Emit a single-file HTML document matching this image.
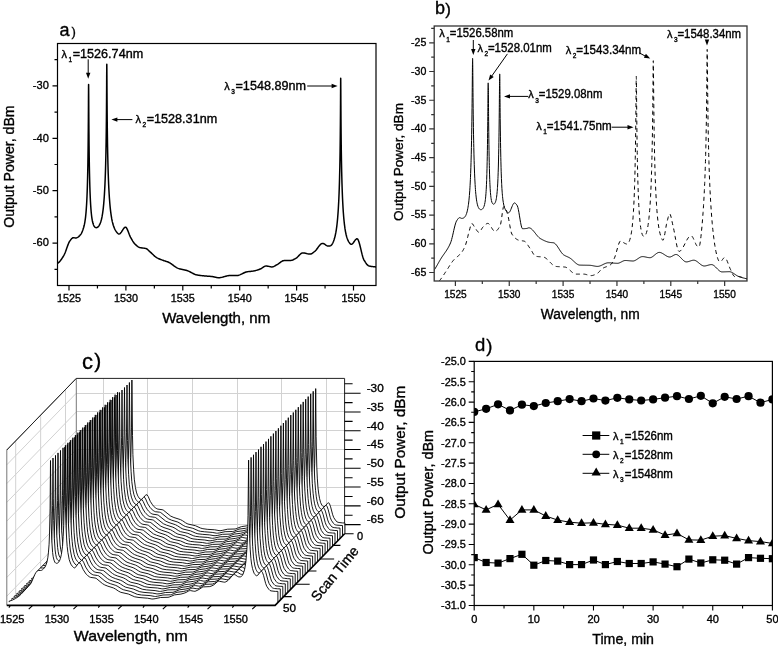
<!DOCTYPE html><html><head><meta charset="utf-8"><style>html,body{margin:0;padding:0;background:#fff;}body{width:778px;height:646px;position:relative;overflow:hidden}</style></head><body><svg width="778" height="646" viewBox="0 0 778 646" style="position:absolute;left:0;top:0;font-family:'Liberation Sans', sans-serif;will-change:transform" fill="#000">
<style>text{stroke:#000;stroke-width:0.35px;paint-order:stroke}</style>
<rect width="778" height="646" fill="#fff"/>
<defs><clipPath id="ca"><rect x="57.5" y="43.5" width="318.5" height="242.0"/></clipPath></defs>
<path d="M57.62,263.24 L58.19,262.89 L58.76,262.43 L59.33,261.88 L59.90,261.26 L60.46,260.56 L61.03,259.80 L61.60,258.99 L62.17,258.13 L62.74,257.24 L63.31,256.33 L63.88,255.40 L64.45,254.27 L65.02,252.94 L65.59,251.47 L66.15,249.89 L66.72,248.28 L67.29,246.67 L67.86,245.12 L68.43,243.69 L69.00,242.42 L69.57,241.38 L70.14,240.59 L70.71,239.83 L71.28,239.12 L71.53,238.83 L71.84,238.50 L72.41,238.05 L72.98,237.80 L73.52,237.75 L73.55,237.75 L74.12,237.79 L74.69,237.88 L75.26,237.96 L75.28,237.96 L75.83,237.98 L76.40,237.90 L76.83,237.74 L76.97,237.68 L77.53,237.39 L78.10,237.03 L78.20,236.96 L78.67,236.60 L79.24,236.09 L79.42,235.93 L79.81,235.51 L80.38,234.85 L80.49,234.71 L80.95,234.07 L81.43,233.27 L81.52,233.11 L82.09,231.88 L82.27,231.44 L82.66,230.45 L83.01,229.48 L83.22,228.84 L83.66,227.49 L83.79,227.01 L84.23,225.29 L84.36,224.71 L84.74,222.79 L84.93,221.69 L85.19,219.98 L85.50,217.61 L85.59,216.84 L85.94,213.38 L86.07,211.91 L86.25,209.62 L86.52,205.57 L86.64,203.63 L86.77,201.27 L86.98,196.74 L87.17,192.02 L87.21,190.95 L87.34,187.15 L87.48,182.15 L87.61,177.05 L87.73,171.88 L87.78,169.47 L87.83,166.66 L87.92,161.42 L88.00,156.17 L88.07,150.93 L88.13,145.74 L88.19,140.61 L88.23,135.57 L88.28,130.64 L88.31,125.86 L88.35,121.50 L88.35,121.26 L88.38,116.88 L88.40,112.74 L88.43,108.89 L88.45,105.34 L88.46,102.13 L88.48,99.26 L88.49,96.74 L88.51,94.56 L88.52,92.70 L88.53,91.13 L88.54,89.83 L88.54,88.75 L88.55,87.88 L88.56,87.17 L88.56,86.61 L88.57,86.16 L88.57,85.80 L88.57,85.51 L88.58,85.29 L88.58,85.11 L88.58,84.97 L88.58,84.86 L88.59,84.78 L88.59,84.71 L88.59,84.66 L88.60,84.47 L88.61,84.66 L88.61,84.71 L88.61,84.78 L88.62,84.86 L88.62,84.97 L88.62,85.11 L88.62,85.29 L88.63,85.51 L88.63,85.80 L88.63,86.16 L88.64,86.61 L88.64,87.17 L88.65,87.88 L88.66,88.75 L88.66,89.83 L88.67,91.13 L88.68,92.70 L88.69,94.56 L88.71,96.74 L88.72,99.26 L88.74,102.13 L88.75,105.34 L88.77,108.89 L88.80,112.74 L88.82,116.88 L88.85,121.26 L88.89,125.86 L88.91,129.62 L88.92,130.64 L88.97,135.56 L89.01,140.60 L89.07,145.73 L89.13,150.92 L89.20,156.15 L89.28,161.40 L89.37,166.64 L89.47,171.85 L89.48,172.44 L89.59,177.00 L89.72,182.08 L89.73,182.56 L89.86,187.05 L90.03,191.89 L90.05,192.47 L90.22,196.55 L90.43,201.00 L90.62,204.34 L90.68,205.20 L90.95,209.12 L91.19,211.99 L91.26,212.72 L91.61,215.96 L91.72,216.82 L91.76,217.12 L92.01,218.82 L92.33,220.65 L92.46,221.28 L92.90,223.11 L92.97,223.35 L93.47,224.83 L93.48,224.86 L93.54,225.01 L94.04,226.02 L94.19,226.28 L94.60,226.82 L94.93,227.15 L95.03,227.23 L95.17,227.33 L95.74,227.60 L95.77,227.61 L96.31,227.67 L96.40,227.67 L96.71,227.62 L96.88,227.57 L97.45,227.30 L97.62,227.20 L97.78,227.07 L98.02,226.88 L98.59,226.27 L98.69,226.15 L99.00,225.72 L99.16,225.48 L99.63,224.64 L99.73,224.46 L100.29,223.17 L100.37,222.98 L100.47,222.71 L100.86,221.54 L101.21,220.36 L101.43,219.49 L101.86,217.61 L101.92,217.29 L102.00,216.89 L102.43,214.46 L102.57,213.59 L102.94,210.94 L103.14,209.35 L103.39,207.09 L103.68,204.17 L103.71,203.85 L103.79,202.94 L104.14,198.52 L104.28,196.56 L104.45,193.88 L104.72,189.05 L104.85,186.63 L104.97,184.07 L105.18,178.97 L105.37,173.77 L105.42,172.36 L105.54,168.50 L105.67,163.68 L105.68,163.17 L105.81,157.80 L105.93,152.42 L105.98,149.50 L106.03,147.02 L106.12,141.64 L106.20,136.28 L106.27,130.96 L106.33,125.70 L106.39,120.52 L106.43,115.43 L106.48,110.48 L106.51,105.67 L106.55,101.05 L106.55,100.13 L106.58,96.65 L106.60,92.50 L106.63,88.64 L106.65,85.09 L106.66,81.87 L106.68,79.00 L106.69,76.47 L106.71,74.29 L106.72,72.42 L106.73,70.85 L106.74,69.55 L106.74,68.48 L106.75,67.60 L106.76,66.89 L106.76,66.33 L106.77,65.87 L106.77,65.51 L106.77,65.23 L106.78,65.01 L106.78,64.83 L106.78,64.69 L106.78,64.58 L106.79,64.50 L106.79,64.43 L106.79,64.38 L106.80,64.19 L106.81,64.38 L106.81,64.43 L106.81,64.50 L106.82,64.58 L106.82,64.69 L106.82,64.83 L106.82,65.01 L106.83,65.23 L106.83,65.51 L106.83,65.87 L106.84,66.33 L106.84,66.89 L106.85,67.60 L106.86,68.48 L106.86,69.55 L106.87,70.85 L106.88,72.42 L106.89,74.29 L106.91,76.47 L106.92,79.00 L106.94,81.87 L106.95,85.09 L106.97,88.64 L107.00,92.50 L107.02,96.65 L107.05,101.05 L107.09,105.67 L107.12,110.44 L107.12,110.48 L107.17,115.44 L107.21,120.52 L107.27,125.71 L107.33,130.97 L107.40,136.29 L107.48,141.65 L107.57,147.03 L107.67,152.43 L107.69,153.44 L107.79,157.82 L107.92,163.19 L108.06,168.52 L108.23,173.81 L108.26,174.70 L108.42,179.03 L108.63,184.16 L108.83,188.30 L108.88,189.18 L109.15,194.06 L109.40,197.92 L109.46,198.77 L109.81,203.29 L109.97,205.08 L110.21,207.57 L110.54,210.60 L110.66,211.60 L111.11,214.94 L111.17,215.35 L111.67,218.42 L111.74,218.78 L112.24,221.24 L112.39,221.90 L112.81,223.57 L113.13,224.69 L113.38,225.50 L113.95,227.12 L113.97,227.16 L114.52,228.49 L114.91,229.32 L115.09,229.66 L115.66,230.66 L115.98,231.17 L116.23,231.52 L116.80,232.27 L117.20,232.73 L117.36,232.91 L117.93,233.47 L118.50,233.91 L118.57,233.94 L119.07,234.04 L119.64,233.88 L120.12,233.55 L120.21,233.47 L120.78,232.85 L121.35,232.08 L121.88,231.27 L121.92,231.21 L122.49,230.30 L123.05,229.40 L123.62,228.59 L123.87,228.27 L124.19,227.91 L124.76,227.42 L125.33,227.20 L125.90,227.32 L126.47,227.89 L127.04,228.86 L127.61,230.11 L128.18,231.54 L128.74,233.06 L129.31,234.56 L129.88,235.95 L130.45,237.11 L131.02,238.12 L131.59,239.13 L132.16,240.12 L132.73,241.07 L133.30,241.97 L133.87,242.79 L134.43,243.50 L135.00,244.10 L135.57,244.65 L136.14,245.17 L136.71,245.67 L137.28,246.14 L137.85,246.56 L138.42,246.92 L138.99,247.23 L139.56,247.47 L140.12,247.63 L140.69,247.75 L141.26,247.84 L141.83,247.93 L142.40,248.00 L142.97,248.06 L143.54,248.13 L144.11,248.20 L144.68,248.27 L145.25,248.37 L145.81,248.48 L146.38,248.67 L146.95,249.01 L147.52,249.45 L148.09,249.97 L148.66,250.53 L149.23,251.10 L149.80,251.63 L150.37,252.11 L150.94,252.62 L151.50,253.15 L152.07,253.69 L152.64,254.24 L153.21,254.78 L153.78,255.32 L154.35,255.83 L154.92,256.32 L155.49,256.78 L156.06,257.19 L156.63,257.56 L157.19,257.88 L157.76,258.18 L158.33,258.46 L158.90,258.72 L159.47,258.97 L160.04,259.21 L160.61,259.44 L161.18,259.66 L161.75,259.88 L162.32,260.09 L162.88,260.31 L163.45,260.52 L164.02,260.72 L164.59,260.91 L165.16,261.09 L165.73,261.27 L166.30,261.45 L166.87,261.63 L167.44,261.83 L168.01,262.04 L168.57,262.28 L169.14,262.55 L169.71,262.86 L170.28,263.20 L170.85,263.57 L171.42,263.97 L171.99,264.37 L172.56,264.79 L173.13,265.21 L173.70,265.64 L174.26,266.06 L174.83,266.46 L175.40,266.86 L175.97,267.23 L176.54,267.58 L177.11,267.89 L177.68,268.17 L178.25,268.41 L178.82,268.60 L179.39,268.78 L179.95,268.94 L180.52,269.08 L181.09,269.21 L181.66,269.33 L182.23,269.45 L182.80,269.57 L183.37,269.68 L183.94,269.79 L184.51,269.91 L185.08,270.04 L185.64,270.18 L186.21,270.33 L186.78,270.49 L187.35,270.68 L187.92,270.90 L188.49,271.15 L189.06,271.41 L189.63,271.69 L190.20,271.98 L190.77,272.28 L191.33,272.59 L191.90,272.89 L192.47,273.19 L193.04,273.48 L193.61,273.76 L194.18,274.03 L194.75,274.27 L195.32,274.48 L195.89,274.67 L196.46,274.83 L197.02,274.94 L197.59,275.05 L198.16,275.15 L198.73,275.24 L199.30,275.33 L199.87,275.41 L200.44,275.49 L201.01,275.56 L201.58,275.63 L202.15,275.69 L202.71,275.75 L203.28,275.81 L203.85,275.87 L204.42,275.93 L204.99,275.98 L205.56,276.03 L206.13,276.08 L206.70,276.12 L207.27,276.16 L207.84,276.20 L208.40,276.23 L208.97,276.27 L209.54,276.31 L210.11,276.35 L210.68,276.39 L211.25,276.44 L211.82,276.49 L212.39,276.56 L212.96,276.66 L213.53,276.77 L214.09,276.90 L214.66,277.04 L215.23,277.18 L215.80,277.31 L216.37,277.44 L216.94,277.54 L217.51,277.63 L218.08,277.68 L218.65,277.70 L219.22,277.69 L219.78,277.64 L220.35,277.57 L220.92,277.48 L221.49,277.37 L222.06,277.25 L222.63,277.11 L223.20,276.96 L223.77,276.80 L224.34,276.64 L224.91,276.48 L225.47,276.32 L226.04,276.17 L226.61,276.02 L227.18,275.89 L227.75,275.77 L228.32,275.67 L228.89,275.59 L229.46,275.53 L230.03,275.50 L230.60,275.50 L231.16,275.50 L231.73,275.50 L232.30,275.50 L232.87,275.50 L233.44,275.50 L234.01,275.50 L234.58,275.50 L235.15,275.50 L235.72,275.50 L236.29,275.50 L236.85,275.50 L237.42,275.47 L237.99,275.40 L238.56,275.27 L239.13,275.10 L239.70,274.90 L240.27,274.67 L240.84,274.41 L241.41,274.14 L241.98,273.86 L242.54,273.57 L243.11,273.28 L243.68,273.00 L244.25,272.73 L244.82,272.48 L245.39,272.25 L245.96,272.06 L246.53,271.90 L247.10,271.78 L247.67,271.69 L248.23,271.62 L248.80,271.55 L249.37,271.49 L249.94,271.43 L250.51,271.38 L251.08,271.32 L251.65,271.26 L252.22,271.20 L252.79,271.13 L253.36,271.04 L253.92,270.94 L254.49,270.83 L255.06,270.70 L255.63,270.56 L256.20,270.40 L256.77,270.24 L257.34,270.06 L257.91,269.88 L258.48,269.69 L259.05,269.49 L259.61,269.28 L260.18,269.07 L260.75,268.80 L261.32,268.48 L261.89,268.11 L262.46,267.72 L263.03,267.32 L263.60,266.94 L264.17,266.60 L264.74,266.32 L265.30,266.12 L265.87,266.01 L266.44,266.01 L267.01,266.06 L267.58,266.14 L268.15,266.25 L268.72,266.38 L269.29,266.51 L269.86,266.63 L270.43,266.75 L270.99,266.83 L271.56,266.89 L272.13,266.90 L272.70,266.82 L273.27,266.66 L273.84,266.43 L274.41,266.14 L274.98,265.82 L275.55,265.49 L276.12,265.15 L276.68,264.82 L277.25,264.52 L277.82,264.19 L278.39,263.81 L278.96,263.40 L279.53,262.97 L280.10,262.54 L280.67,262.12 L281.24,261.72 L281.81,261.36 L282.37,261.05 L282.94,260.82 L283.51,260.66 L284.08,260.60 L284.65,260.58 L285.22,260.56 L285.79,260.54 L286.36,260.53 L286.93,260.52 L287.50,260.50 L288.06,260.49 L288.63,260.48 L289.20,260.46 L289.77,260.44 L290.34,260.42 L290.91,260.39 L291.48,260.32 L292.05,260.17 L292.62,259.98 L293.19,259.74 L293.75,259.46 L294.32,259.16 L294.89,258.85 L295.46,258.54 L296.03,258.23 L296.60,257.84 L297.17,257.36 L297.74,256.82 L298.31,256.23 L298.88,255.62 L299.44,255.02 L300.01,254.45 L300.58,253.93 L301.15,253.49 L301.72,253.16 L302.29,252.95 L302.86,252.90 L303.43,252.92 L304.00,252.98 L304.57,253.07 L305.13,253.19 L305.70,253.33 L306.27,253.47 L306.84,253.62 L307.41,253.76 L307.98,253.88 L308.55,253.99 L309.12,254.07 L309.69,254.11 L310.26,254.10 L310.82,254.01 L311.39,253.80 L311.96,253.49 L312.53,253.11 L313.10,252.68 L313.67,252.23 L314.24,251.78 L314.81,251.34 L315.38,250.81 L315.95,250.19 L316.51,249.49 L317.08,248.74 L317.65,247.96 L318.22,247.18 L318.79,246.42 L319.36,245.69 L319.93,245.02 L320.50,244.44 L321.07,243.97 L321.64,243.62 L322.20,243.42 L322.77,243.38 L323.34,243.51 L323.63,243.62 L323.91,243.76 L324.48,244.10 L325.05,244.49 L325.62,244.90 L325.62,244.90 L326.19,245.30 L326.76,245.65 L327.33,245.92 L327.38,245.94 L327.89,246.07 L328.46,246.10 L328.93,246.09 L329.03,246.09 L329.60,246.02 L330.17,245.86 L330.30,245.81 L330.74,245.58 L331.31,245.13 L331.52,244.92 L331.88,244.48 L332.45,243.60 L332.59,243.34 L333.02,242.47 L333.53,241.27 L333.58,241.13 L334.15,239.53 L334.37,238.84 L334.72,237.60 L335.11,236.07 L335.29,235.26 L335.76,232.97 L335.86,232.41 L336.33,229.53 L336.43,228.88 L336.84,225.78 L337.00,224.47 L337.29,221.75 L337.57,218.85 L337.69,217.45 L338.04,212.93 L338.14,211.55 L338.35,208.21 L338.62,203.32 L338.71,201.71 L338.87,198.30 L339.08,193.16 L339.27,187.94 L339.27,187.76 L339.44,182.64 L339.58,177.30 L339.71,171.93 L339.83,166.54 L339.84,165.75 L339.93,161.14 L340.02,155.75 L340.10,150.39 L340.17,145.07 L340.23,139.81 L340.29,134.62 L340.33,129.54 L340.38,124.58 L340.41,119.96 L340.41,119.77 L340.45,115.15 L340.48,110.75 L340.50,106.60 L340.53,102.74 L340.55,99.19 L340.56,95.97 L340.58,93.10 L340.59,90.57 L340.61,88.39 L340.62,86.52 L340.63,84.95 L340.64,83.65 L340.64,82.58 L340.65,81.70 L340.66,80.99 L340.66,80.43 L340.67,79.97 L340.67,79.62 L340.67,79.33 L340.68,79.11 L340.68,78.93 L340.68,78.79 L340.68,78.68 L340.69,78.60 L340.69,78.53 L340.69,78.48 L340.70,78.29 L340.71,78.48 L340.71,78.53 L340.71,78.60 L340.72,78.68 L340.72,78.79 L340.72,78.93 L340.72,79.11 L340.73,79.33 L340.73,79.62 L340.73,79.97 L340.74,80.43 L340.74,80.99 L340.75,81.70 L340.76,82.58 L340.76,83.65 L340.77,84.95 L340.78,86.52 L340.79,88.39 L340.81,90.57 L340.82,93.10 L340.84,95.97 L340.85,99.19 L340.87,102.74 L340.90,106.60 L340.92,110.75 L340.95,115.15 L340.98,119.29 L340.99,119.77 L341.02,124.58 L341.07,129.54 L341.11,134.62 L341.17,139.81 L341.23,145.07 L341.30,150.39 L341.38,155.75 L341.47,161.14 L341.55,165.49 L341.57,166.53 L341.69,171.92 L341.82,177.29 L341.96,182.63 L342.12,187.59 L342.13,187.91 L342.32,193.13 L342.53,198.25 L342.69,201.55 L342.78,203.25 L343.05,208.11 L343.26,211.35 L343.36,212.79 L343.71,217.26 L343.83,218.59 L344.11,221.49 L344.40,224.11 L344.56,225.44 L344.96,228.41 L345.07,229.07 L345.53,231.81 L345.64,232.37 L346.10,234.52 L346.29,235.31 L346.67,236.71 L347.03,237.88 L347.24,238.49 L347.81,239.95 L347.87,240.08 L348.38,241.14 L348.81,241.91 L348.95,242.12 L349.52,242.93 L349.88,243.37 L350.09,243.59 L350.65,244.10 L351.10,244.28 L351.22,244.29 L351.79,244.18 L352.36,243.80 L352.47,243.71 L352.93,243.22 L353.50,242.50 L354.02,241.77 L354.07,241.70 L354.64,240.88 L355.21,240.11 L355.78,239.47 L355.78,239.46 L356.34,239.00 L356.91,238.79 L357.48,238.94 L357.77,239.24 L358.05,239.68 L358.62,240.97 L359.19,242.70 L359.76,244.76 L360.33,247.04 L360.90,249.44 L361.47,251.85 L362.03,254.17 L362.60,256.29 L363.17,258.10 L363.74,259.52 L364.31,260.51 L364.88,261.44 L365.45,262.34 L366.02,263.19 L366.59,263.96 L367.16,264.65 L367.72,265.22 L368.29,265.65 L368.86,265.93 L369.43,266.07 L370.00,266.18 L370.57,266.29 L371.14,266.39 L371.71,266.48 L372.28,266.56 L372.85,266.63 L373.41,266.70 L373.98,266.76 L374.55,266.82 L375.12,266.87 L375.69,266.91 L376.26,266.94" fill="none" stroke="#000" stroke-width="1.5" stroke-linejoin="round" clip-path="url(#ca)"/>
<rect x="57.5" y="43.5" width="318.5" height="242.0" fill="none" stroke="#000" stroke-width="1.2"/>
<path d="M69.00,285.5 v5 M97.45,285.5 v3 M125.90,285.5 v5 M154.35,285.5 v3 M182.80,285.5 v5 M211.25,285.5 v3 M239.70,285.5 v5 M268.15,285.5 v3 M296.60,285.5 v5 M325.05,285.5 v3 M353.50,285.5 v5 M57.5,59.70 h-3 M57.5,85.90 h-5 M57.5,112.10 h-3 M57.5,138.30 h-5 M57.5,164.50 h-3 M57.5,190.70 h-5 M57.5,216.90 h-3 M57.5,243.10 h-5 M57.5,269.30 h-3" stroke="#000" stroke-width="1.2" fill="none"/>
<text x="69.0" y="301.7" font-size="11.5" text-anchor="middle" textLength="24" lengthAdjust="spacingAndGlyphs" >1525</text>
<text x="125.9" y="301.7" font-size="11.5" text-anchor="middle" textLength="24" lengthAdjust="spacingAndGlyphs" >1530</text>
<text x="182.8" y="301.7" font-size="11.5" text-anchor="middle" textLength="24" lengthAdjust="spacingAndGlyphs" >1535</text>
<text x="239.7" y="301.7" font-size="11.5" text-anchor="middle" textLength="24" lengthAdjust="spacingAndGlyphs" >1540</text>
<text x="296.6" y="301.7" font-size="11.5" text-anchor="middle" textLength="24" lengthAdjust="spacingAndGlyphs" >1545</text>
<text x="353.5" y="301.7" font-size="11.5" text-anchor="middle" textLength="24" lengthAdjust="spacingAndGlyphs" >1550</text>
<text x="48.8" y="89.1" font-size="11.5" text-anchor="end" textLength="16" lengthAdjust="spacingAndGlyphs" >-30</text>
<text x="48.8" y="141.5" font-size="11.5" text-anchor="end" textLength="16" lengthAdjust="spacingAndGlyphs" >-40</text>
<text x="48.8" y="193.9" font-size="11.5" text-anchor="end" textLength="16" lengthAdjust="spacingAndGlyphs" >-50</text>
<text x="48.8" y="246.3" font-size="11.5" text-anchor="end" textLength="16" lengthAdjust="spacingAndGlyphs" >-60</text>
<text x="162.2" y="323.3" font-size="14" text-anchor="start" textLength="108" lengthAdjust="spacingAndGlyphs" >Wavelength, nm</text>
<text transform="translate(14.1,227.8) rotate(-90)" font-size="14" textLength="122.4" lengthAdjust="spacingAndGlyphs">Output Power, dBm</text>
<text x="59.5" y="36.2" font-size="18" text-anchor="start" >a</text>
<text x="71.6" y="36.3" font-size="13" text-anchor="start" >)</text>
<text x="61.5" y="58.0" font-size="11">λ</text>
<text x="68.5" y="62.4" font-size="6.5">1</text>
<text x="72.7" y="58.0" font-size="12" textLength="70.5" lengthAdjust="spacingAndGlyphs">=1526.74nm</text>
<text x="135.5" y="122.6" font-size="11">λ</text>
<text x="142.5" y="127.0" font-size="6.5">2</text>
<text x="146.7" y="122.6" font-size="12" textLength="70.5" lengthAdjust="spacingAndGlyphs">=1528.31nm</text>
<text x="224.3" y="90.0" font-size="11">λ</text>
<text x="231.3" y="94.4" font-size="6.5">3</text>
<text x="235.5" y="90.0" font-size="12" textLength="70.5" lengthAdjust="spacingAndGlyphs">=1548.89nm</text>
<path d="M88.2,59.3 V73 M132.4,119.6 H117 M307.2,86 H332" stroke="#000" stroke-width="1" fill="none"/>
<path d="M88.20,78.80 L86.00,72.80 L90.40,72.80 Z" fill="#000"/>
<path d="M111.40,119.60 L117.40,117.40 L117.40,121.80 Z" fill="#000"/>
<path d="M337.60,86.00 L331.60,88.20 L331.60,83.80 Z" fill="#000"/>
<defs><clipPath id="cb"><rect x="434.2" y="26.0" width="312.8" height="255.0"/></clipPath></defs>
<path d="M428.47,277.67 L429.01,277.00 L429.55,276.33 L430.09,275.65 L430.63,274.97 L431.17,274.27 L431.71,273.56 L432.24,272.84 L432.78,272.10 L433.32,271.34 L433.86,270.56 L434.40,269.75 L434.94,268.90 L435.48,268.03 L436.01,267.13 L436.55,266.21 L437.09,265.27 L437.63,264.33 L438.17,263.38 L438.71,262.43 L439.24,261.48 L439.78,260.55 L440.32,259.63 L440.86,258.74 L441.40,257.87 L441.94,257.05 L442.48,256.25 L443.01,255.47 L443.55,254.70 L444.09,253.95 L444.63,253.19 L445.17,252.42 L445.71,251.64 L446.25,250.84 L446.78,250.01 L447.32,249.15 L447.86,248.25 L448.40,247.30 L448.94,246.29 L449.48,245.22 L450.01,244.09 L450.55,242.87 L451.09,241.39 L451.63,239.56 L452.17,237.47 L452.71,235.19 L453.25,232.81 L453.78,230.42 L454.32,228.09 L454.86,225.91 L455.40,223.96 L455.94,222.32 L456.44,221.14 L456.48,221.08 L457.02,220.22 L457.55,219.43 L458.09,218.72 L458.33,218.45 L458.63,218.15 L459.17,217.78 L459.71,217.67 L459.99,217.72 L460.25,217.80 L460.78,218.05 L461.32,218.29 L461.46,218.34 L461.86,218.41 L462.40,218.35 L462.76,218.28 L462.94,218.23 L463.48,218.03 L463.91,217.79 L464.02,217.72 L464.55,217.26 L464.92,216.85 L465.09,216.62 L465.63,215.76 L465.82,215.40 L466.17,214.60 L466.61,213.40 L466.71,213.08 L467.25,211.11 L467.31,210.86 L467.79,208.57 L467.92,207.81 L468.32,205.30 L468.47,204.26 L468.86,201.02 L468.95,200.21 L469.38,195.69 L469.40,195.38 L469.75,190.71 L469.94,187.78 L470.08,185.32 L470.38,179.58 L470.48,177.34 L470.64,173.54 L470.86,167.26 L471.02,162.52 L471.07,160.81 L471.25,154.24 L471.40,147.59 L471.54,140.92 L471.55,140.31 L471.67,134.27 L471.78,127.69 L471.87,121.22 L471.96,114.91 L472.03,108.80 L472.05,107.63 L472.09,103.33 L472.10,102.95 L472.16,97.40 L472.21,92.20 L472.25,87.39 L472.29,83.01 L472.33,79.07 L472.36,75.59 L472.39,72.55 L472.41,69.95 L472.44,67.75 L472.45,65.91 L472.47,64.39 L472.49,63.15 L472.50,62.14 L472.51,61.33 L472.52,60.68 L472.53,60.17 L472.54,59.76 L472.55,59.44 L472.55,59.18 L472.56,58.98 L472.56,58.82 L472.57,58.70 L472.57,58.60 L472.57,58.53 L472.58,58.47 L472.58,58.42 L472.58,58.39 L472.58,58.36 L472.59,58.34 L472.59,58.32 L472.59,58.31 L472.60,58.26 L472.61,58.31 L472.61,58.32 L472.61,58.34 L472.62,58.36 L472.62,58.39 L472.62,58.42 L472.62,58.47 L472.63,58.53 L472.63,58.60 L472.63,58.68 L472.63,58.70 L472.64,58.82 L472.64,58.98 L472.65,59.18 L472.65,59.44 L472.66,59.76 L472.67,60.17 L472.68,60.68 L472.69,61.33 L472.70,62.14 L472.71,63.15 L472.73,64.39 L472.75,65.91 L472.76,67.75 L472.79,69.95 L472.81,72.55 L472.84,75.59 L472.87,79.07 L472.91,83.01 L472.95,87.39 L472.99,92.20 L473.04,97.39 L473.10,102.94 L473.17,108.79 L473.17,108.95 L473.24,114.89 L473.33,121.20 L473.42,127.66 L473.53,134.23 L473.66,140.86 L473.71,143.44 L473.80,147.50 L473.93,153.08 L473.95,154.10 L474.13,160.61 L474.25,164.34 L474.34,166.97 L474.56,173.11 L474.79,178.18 L474.82,178.96 L475.12,184.44 L475.32,187.72 L475.45,189.47 L475.59,191.33 L475.82,193.99 L475.86,194.39 L476.25,197.94 L476.40,199.11 L476.73,201.29 L476.94,202.45 L477.06,203.07 L477.28,204.04 L477.48,204.84 L477.89,206.21 L478.02,206.55 L478.36,207.37 L478.56,207.76 L478.59,207.83 L479.09,208.60 L479.38,208.93 L479.51,209.05 L479.63,209.16 L480.17,209.50 L480.28,209.55 L480.52,209.63 L480.71,209.66 L481.25,209.65 L481.29,209.64 L481.42,209.62 L481.79,209.48 L482.21,209.23 L482.32,209.14 L482.44,209.04 L482.86,208.58 L482.91,208.53 L483.40,207.77 L483.52,207.54 L483.55,207.49 L483.74,207.08 L483.94,206.57 L484.07,206.22 L484.48,204.83 L484.55,204.54 L484.98,202.45 L485.02,202.20 L485.21,200.97 L485.35,199.91 L485.43,199.28 L485.56,198.14 L485.68,196.87 L485.98,193.32 L486.09,191.60 L486.24,189.26 L486.46,184.72 L486.63,180.66 L486.67,179.74 L486.85,174.39 L486.87,173.52 L487.00,168.73 L487.09,165.11 L487.14,162.85 L487.17,161.54 L487.27,156.82 L487.38,150.72 L487.47,144.62 L487.56,138.59 L487.63,132.70 L487.70,127.01 L487.71,125.90 L487.76,121.59 L487.81,116.48 L487.85,111.75 L487.89,107.42 L487.93,103.52 L487.96,100.07 L487.99,97.06 L488.01,94.48 L488.04,92.29 L488.05,90.46 L488.07,88.95 L488.09,87.72 L488.10,86.71 L488.11,85.91 L488.12,85.26 L488.13,84.75 L488.14,84.34 L488.15,84.02 L488.15,83.77 L488.16,83.57 L488.16,83.41 L488.17,83.29 L488.17,83.20 L488.17,83.12 L488.18,83.06 L488.18,83.02 L488.18,82.98 L488.18,82.95 L488.19,82.93 L488.19,82.91 L488.19,82.90 L488.20,82.85 L488.21,82.90 L488.21,82.91 L488.21,82.93 L488.22,82.95 L488.22,82.98 L488.22,83.02 L488.22,83.06 L488.23,83.12 L488.23,83.20 L488.23,83.29 L488.24,83.41 L488.24,83.57 L488.25,83.77 L488.25,83.80 L488.25,84.02 L488.26,84.34 L488.27,84.75 L488.28,85.26 L488.29,85.91 L488.30,86.71 L488.31,87.72 L488.33,88.95 L488.35,90.46 L488.36,92.29 L488.39,94.48 L488.41,97.06 L488.44,100.07 L488.47,103.52 L488.51,107.42 L488.55,111.74 L488.56,113.38 L488.59,116.48 L488.64,121.58 L488.70,127.00 L488.75,131.55 L488.77,132.68 L488.79,134.17 L488.84,138.56 L488.93,144.58 L489.02,150.66 L489.13,156.73 L489.26,162.72 L489.33,165.70 L489.40,168.54 L489.55,174.12 L489.73,179.37 L489.86,182.54 L489.86,182.62 L489.94,184.21 L490.16,188.56 L490.40,192.11 L490.42,192.38 L490.72,195.64 L490.94,197.55 L491.01,198.04 L491.05,198.32 L491.42,200.46 L491.48,200.71 L491.85,202.07 L492.02,202.54 L492.02,202.55 L492.33,203.21 L492.56,203.57 L492.88,203.91 L492.92,203.95 L493.09,204.06 L493.49,204.18 L493.63,204.18 L493.71,204.17 L494.17,203.98 L494.19,203.97 L494.41,203.79 L494.71,203.46 L494.98,203.04 L495.02,202.98 L495.25,202.53 L495.57,201.72 L495.79,201.02 L495.88,200.69 L496.05,200.00 L496.33,198.63 L496.48,197.75 L496.85,194.94 L496.86,194.82 L496.89,194.57 L497.18,191.55 L497.40,188.69 L497.48,187.60 L497.74,183.10 L497.94,178.69 L497.96,178.13 L498.04,176.26 L498.17,172.74 L498.35,167.02 L498.48,162.00 L498.50,161.04 L498.64,154.89 L498.77,148.65 L498.88,142.37 L498.97,136.13 L499.02,132.81 L499.06,130.00 L499.13,124.02 L499.20,118.27 L499.26,112.80 L499.31,107.66 L499.34,104.53 L499.35,102.89 L499.39,98.54 L499.43,94.63 L499.46,91.16 L499.49,88.14 L499.51,85.55 L499.54,83.36 L499.55,81.52 L499.56,81.30 L499.57,80.01 L499.59,78.77 L499.60,77.77 L499.61,76.96 L499.62,76.31 L499.63,75.80 L499.64,75.39 L499.65,75.07 L499.65,74.82 L499.66,74.62 L499.66,74.46 L499.67,74.34 L499.67,74.24 L499.67,74.17 L499.68,74.11 L499.68,74.06 L499.68,74.03 L499.68,74.00 L499.69,73.98 L499.69,73.96 L499.69,73.95 L499.70,73.90 L499.71,73.95 L499.71,73.96 L499.71,73.98 L499.72,74.00 L499.72,74.03 L499.72,74.06 L499.72,74.11 L499.73,74.17 L499.73,74.24 L499.73,74.34 L499.74,74.46 L499.74,74.62 L499.75,74.82 L499.75,75.07 L499.76,75.39 L499.77,75.80 L499.78,76.31 L499.79,76.96 L499.80,77.77 L499.81,78.77 L499.83,80.01 L499.85,81.52 L499.86,83.36 L499.89,85.55 L499.91,88.14 L499.94,91.16 L499.97,94.63 L500.01,98.54 L500.05,102.89 L500.09,107.66 L500.10,108.01 L500.14,112.81 L500.20,118.28 L500.27,124.04 L500.34,130.02 L500.43,136.17 L500.52,142.42 L500.63,148.72 L500.63,148.74 L500.76,155.00 L500.81,157.38 L500.90,161.20 L501.05,167.25 L501.17,171.22 L501.23,173.08 L501.44,178.61 L501.66,183.78 L501.71,184.72 L501.92,188.53 L502.22,192.82 L502.25,193.24 L502.47,195.82 L502.55,196.62 L502.79,198.82 L502.92,199.92 L503.33,202.60 L503.35,202.74 L503.83,205.13 L503.86,205.27 L504.36,207.06 L504.38,207.13 L504.40,207.21 L504.94,208.66 L504.99,208.79 L505.48,209.78 L505.69,210.15 L506.02,210.66 L506.48,211.26 L506.56,211.35 L507.10,211.89 L507.38,212.13 L507.63,212.32 L508.17,212.64 L508.39,212.74 L508.71,212.75 L509.25,212.40 L509.54,212.06 L509.79,211.68 L510.33,210.68 L510.84,209.53 L510.87,209.46 L511.40,208.14 L511.94,206.79 L512.31,205.91 L512.48,205.52 L513.02,204.40 L513.56,203.53 L513.97,203.10 L514.10,203.01 L514.63,202.92 L515.17,203.15 L515.71,203.61 L515.86,203.77 L516.25,204.24 L516.79,204.99 L517.33,205.82 L517.87,207.37 L518.40,209.72 L518.94,212.63 L519.48,215.86 L520.02,219.17 L520.56,222.33 L521.10,225.09 L521.64,227.21 L522.17,228.47 L522.71,228.71 L523.25,228.71 L523.79,228.70 L524.33,228.68 L524.87,228.64 L525.40,228.59 L525.94,228.54 L526.48,228.47 L527.02,228.40 L527.56,228.23 L528.10,228.00 L528.64,227.82 L529.17,227.82 L529.71,227.94 L530.25,228.15 L530.79,228.46 L531.33,228.84 L531.87,229.29 L532.41,229.81 L532.94,230.38 L533.48,230.99 L534.02,231.63 L534.56,232.30 L535.10,232.99 L535.64,233.68 L536.17,234.36 L536.71,235.04 L537.25,235.69 L537.79,236.32 L538.33,236.90 L538.87,237.43 L539.41,237.91 L539.94,238.31 L540.48,238.65 L541.02,238.95 L541.56,239.24 L542.10,239.53 L542.64,239.82 L543.18,240.09 L543.71,240.36 L544.25,240.61 L544.79,240.86 L545.33,241.09 L545.87,241.31 L546.41,241.52 L546.94,241.71 L547.48,241.88 L548.02,242.04 L548.56,242.18 L549.10,242.29 L549.64,242.39 L550.18,242.46 L550.71,242.52 L551.25,242.57 L551.79,242.61 L552.33,242.65 L552.87,242.71 L553.41,242.78 L553.95,242.92 L554.48,243.19 L555.02,243.59 L555.56,244.08 L556.10,244.67 L556.64,245.34 L557.18,246.08 L557.71,246.86 L558.25,247.68 L558.79,248.52 L559.33,249.38 L559.87,250.22 L560.41,251.05 L560.95,251.84 L561.48,252.59 L562.02,253.28 L562.56,253.89 L563.10,254.41 L563.64,254.83 L564.18,255.17 L564.72,255.49 L565.25,255.77 L565.79,256.04 L566.33,256.29 L566.87,256.53 L567.41,256.76 L567.95,257.01 L568.48,257.26 L569.02,257.53 L569.56,257.82 L570.10,258.15 L570.64,258.52 L571.18,258.94 L571.72,259.39 L572.25,259.87 L572.79,260.36 L573.33,260.86 L573.87,261.37 L574.41,261.88 L574.95,262.37 L575.49,262.85 L576.02,263.30 L576.56,263.71 L577.10,264.09 L577.64,264.42 L578.18,264.69 L578.72,264.90 L579.25,265.04 L579.79,265.10 L580.33,265.12 L580.87,265.13 L581.41,265.15 L581.95,265.16 L582.49,265.17 L583.02,265.18 L583.56,265.19 L584.10,265.19 L584.64,265.20 L585.18,265.21 L585.72,265.22 L586.26,265.22 L586.79,265.23 L587.33,265.24 L587.87,265.25 L588.41,265.26 L588.95,265.27 L589.49,265.29 L590.02,265.31 L590.56,265.35 L591.10,265.41 L591.64,265.49 L592.18,265.59 L592.72,265.69 L593.26,265.80 L593.79,265.91 L594.33,266.02 L594.87,266.12 L595.41,266.21 L595.95,266.29 L596.49,266.35 L597.03,266.39 L597.56,266.40 L598.10,266.37 L598.64,266.29 L599.18,266.17 L599.72,266.01 L600.26,265.82 L600.79,265.60 L601.33,265.36 L601.87,265.11 L602.41,264.85 L602.95,264.58 L603.49,264.31 L604.03,264.05 L604.56,263.79 L605.10,263.56 L605.64,263.35 L606.18,263.16 L606.72,263.01 L607.26,262.89 L607.80,262.82 L608.33,262.80 L608.87,262.81 L609.41,262.82 L609.95,262.84 L610.49,262.87 L611.03,262.91 L611.56,262.95 L612.10,262.99 L612.64,263.03 L613.18,263.07 L613.72,263.12 L614.26,263.16 L614.80,263.20 L615.33,263.23 L615.87,263.26 L616.41,263.28 L616.95,263.29 L617.49,263.30 L618.03,263.26 L618.57,263.16 L619.10,262.99 L619.64,262.78 L620.18,262.54 L620.72,262.26 L621.26,261.98 L621.80,261.69 L622.33,261.41 L622.87,261.14 L623.41,260.91 L623.95,260.72 L624.49,260.58 L625.03,260.51 L625.57,260.50 L626.10,260.52 L626.64,260.54 L627.18,260.58 L627.72,260.62 L628.26,260.67 L628.80,260.72 L629.34,260.77 L629.87,260.82 L630.41,260.87 L630.95,260.91 L631.49,260.95 L632.03,260.98 L632.57,261.00 L633.10,261.00 L633.64,260.94 L634.18,260.81 L634.72,260.62 L635.26,260.37 L635.80,260.08 L636.34,259.75 L636.87,259.40 L637.41,259.03 L637.95,258.66 L638.49,258.29 L639.03,257.93 L639.57,257.60 L640.11,257.30 L640.64,257.04 L641.18,256.83 L641.72,256.68 L642.26,256.61 L642.80,256.61 L643.34,256.64 L643.87,256.70 L644.41,256.78 L644.95,256.88 L645.49,256.99 L646.03,257.11 L646.57,257.23 L647.11,257.35 L647.64,257.46 L648.18,257.55 L648.72,257.62 L649.26,257.68 L649.80,257.70 L650.34,257.67 L650.88,257.54 L651.41,257.33 L651.95,257.05 L652.49,256.71 L653.03,256.33 L653.57,255.91 L654.11,255.47 L654.64,255.01 L655.18,254.56 L655.72,254.12 L656.26,253.70 L656.80,253.33 L657.34,253.00 L657.88,252.73 L658.41,252.53 L658.95,252.42 L659.49,252.40 L660.03,252.46 L660.57,252.59 L661.11,252.77 L661.65,253.00 L662.18,253.27 L662.72,253.57 L663.26,253.89 L663.80,254.24 L664.34,254.59 L664.88,254.95 L665.41,255.30 L665.95,255.64 L666.49,255.96 L667.03,256.25 L667.57,256.50 L668.11,256.71 L668.65,256.87 L669.18,256.97 L669.72,257.00 L670.26,256.94 L670.80,256.80 L671.34,256.58 L671.88,256.31 L672.42,256.01 L672.95,255.69 L673.49,255.37 L674.03,255.08 L674.57,254.83 L675.11,254.64 L675.65,254.52 L676.18,254.51 L676.72,254.60 L677.26,254.80 L677.80,255.09 L678.34,255.45 L678.88,255.89 L679.42,256.37 L679.95,256.90 L680.49,257.45 L681.03,258.02 L681.57,258.59 L682.11,259.16 L682.65,259.70 L683.19,260.22 L683.72,260.68 L684.26,261.09 L684.80,261.43 L685.34,261.68 L685.88,261.85 L686.42,261.90 L686.95,261.87 L687.49,261.80 L688.03,261.69 L688.57,261.55 L689.11,261.38 L689.65,261.21 L690.19,261.02 L690.72,260.84 L691.26,260.66 L691.80,260.50 L692.34,260.37 L692.88,260.27 L693.42,260.21 L693.96,260.20 L694.49,260.27 L695.03,260.43 L695.57,260.65 L696.11,260.93 L696.65,261.27 L697.19,261.64 L697.72,262.05 L698.26,262.49 L698.80,262.93 L699.34,263.38 L699.88,263.83 L700.42,264.26 L700.96,264.66 L701.49,265.03 L702.03,265.35 L702.57,265.62 L703.11,265.82 L703.65,265.95 L704.19,266.00 L704.73,265.98 L705.26,265.92 L705.80,265.83 L706.34,265.71 L706.88,265.57 L707.42,265.42 L707.96,265.27 L708.49,265.12 L709.03,264.97 L709.57,264.84 L710.11,264.73 L710.65,264.65 L711.19,264.61 L711.73,264.61 L712.26,264.71 L712.80,264.91 L713.34,265.20 L713.88,265.56 L714.42,265.98 L714.96,266.45 L715.50,266.97 L716.03,267.51 L716.57,268.07 L717.11,268.63 L717.65,269.18 L718.19,269.71 L718.73,270.21 L719.26,270.67 L719.80,271.08 L720.34,271.41 L720.88,271.67 L721.42,271.84 L721.96,271.90 L722.50,271.90 L723.03,271.89 L723.57,271.88 L724.11,271.86 L724.65,271.84 L725.19,271.82 L725.73,271.80 L726.27,271.77 L726.80,271.75 L727.34,271.74 L727.88,271.72 L728.42,271.71 L728.96,271.70 L729.50,271.70 L730.03,271.76 L730.57,271.89 L731.11,272.06 L731.65,272.29 L732.19,272.56 L732.73,272.86 L733.27,273.19 L733.80,273.54 L734.34,273.91 L734.88,274.28 L735.42,274.65 L735.96,275.01 L736.50,275.36 L737.04,275.69 L737.57,275.99 L738.11,276.26 L738.65,276.48 L739.19,276.68 L739.73,276.86 L740.27,277.05 L740.80,277.22 L741.34,277.39 L741.88,277.56 L742.42,277.72 L742.96,277.87 L743.50,278.01 L744.04,278.15 L744.57,278.28 L745.11,278.41 L745.65,278.53 L746.19,278.64 L746.73,278.74 L747.27,278.84 L747.81,278.94 L748.34,279.03 L748.88,279.11 L749.42,279.20 L749.96,279.28 L750.50,279.35 L751.04,279.43 L751.58,279.51" fill="none" stroke="#000" stroke-width="1.0" stroke-linejoin="round" clip-path="url(#cb)"/>
<path d="M428.47,291.56 L429.01,291.00 L429.55,290.45 L430.09,289.91 L430.63,289.39 L431.17,288.87 L431.71,288.36 L432.24,287.86 L432.78,287.36 L433.32,286.86 L433.86,286.36 L434.40,285.86 L434.94,285.36 L435.48,284.85 L436.01,284.33 L436.55,283.80 L437.09,283.26 L437.63,282.71 L438.17,282.14 L438.71,281.55 L439.24,280.95 L439.78,280.32 L440.32,279.66 L440.86,278.96 L441.40,278.23 L441.94,277.48 L442.48,276.69 L443.01,275.90 L443.55,275.09 L444.09,274.27 L444.63,273.45 L445.17,272.64 L445.71,271.83 L446.25,271.04 L446.78,270.22 L447.32,269.38 L447.86,268.52 L448.40,267.66 L448.94,266.79 L449.48,265.93 L450.01,265.08 L450.55,264.24 L451.09,263.43 L451.63,262.64 L452.17,261.89 L452.71,261.19 L453.25,260.53 L453.78,259.92 L454.32,259.35 L454.86,258.83 L455.40,258.33 L455.94,257.86 L456.48,257.40 L457.02,256.95 L457.55,256.50 L458.09,256.05 L458.63,255.58 L459.17,255.09 L459.71,254.58 L460.25,254.03 L460.78,253.43 L461.32,252.79 L461.86,252.09 L462.40,251.32 L462.94,250.45 L463.48,249.48 L464.02,248.41 L464.55,247.24 L465.09,245.98 L465.63,244.62 L466.17,242.98 L466.71,241.03 L467.25,238.89 L467.79,236.66 L468.32,234.48 L468.86,232.47 L469.40,230.53 L469.94,228.35 L470.48,226.23 L471.02,224.51 L471.55,223.52 L472.09,223.48 L472.63,223.97 L473.17,224.76 L473.71,225.68 L474.25,226.55 L474.79,227.28 L475.32,228.09 L475.86,228.95 L476.40,229.83 L476.94,230.65 L477.48,231.37 L478.02,231.91 L478.56,232.24 L479.09,232.27 L479.63,231.96 L480.17,231.35 L480.71,230.54 L481.25,229.63 L481.79,228.69 L482.32,227.83 L482.86,227.14 L483.40,226.61 L483.94,226.06 L484.48,225.51 L485.02,224.98 L485.56,224.49 L486.09,224.07 L486.63,223.73 L487.17,223.50 L487.71,223.40 L488.25,223.49 L488.79,223.81 L489.33,224.33 L489.86,225.00 L490.40,225.78 L490.94,226.64 L491.48,227.53 L492.02,228.42 L492.56,229.26 L493.09,230.02 L493.63,230.65 L494.17,231.11 L494.71,231.36 L495.25,231.38 L495.79,231.23 L496.33,230.93 L496.86,230.49 L497.40,229.93 L497.94,229.25 L498.48,228.47 L499.02,227.59 L499.56,226.63 L500.10,225.61 L500.63,224.17 L501.17,221.31 L501.71,217.52 L502.25,213.49 L502.79,209.87 L503.33,207.32 L503.86,206.50 L504.40,206.80 L504.94,207.52 L505.48,208.56 L506.02,209.84 L506.56,211.27 L507.10,212.77 L507.63,214.31 L508.17,216.48 L508.71,219.18 L509.25,222.19 L509.79,225.30 L510.33,228.28 L510.87,230.90 L511.40,232.93 L511.94,234.17 L512.48,234.96 L513.02,235.70 L513.56,236.38 L514.10,237.00 L514.63,237.57 L515.17,238.08 L515.71,238.54 L516.25,238.95 L516.79,239.31 L517.33,239.63 L517.87,239.89 L518.40,240.11 L518.94,240.28 L519.48,240.42 L520.02,240.52 L520.56,240.61 L521.10,240.67 L521.64,240.73 L522.17,240.80 L522.71,240.87 L523.25,240.95 L523.79,241.07 L524.33,241.21 L524.87,241.47 L525.40,241.88 L525.94,242.44 L526.48,243.10 L527.02,243.84 L527.56,244.64 L528.10,245.48 L528.64,246.32 L529.17,247.14 L529.71,247.91 L530.25,248.64 L530.79,249.46 L531.33,250.35 L531.87,251.29 L532.41,252.25 L532.94,253.18 L533.48,254.05 L534.02,254.83 L534.56,255.48 L535.10,255.96 L535.64,256.26 L536.17,256.37 L536.71,256.46 L537.25,256.53 L537.79,256.59 L538.33,256.64 L538.87,256.68 L539.41,256.71 L539.94,256.75 L540.48,256.78 L541.02,256.82 L541.56,256.86 L542.10,256.91 L542.64,256.97 L543.18,257.05 L543.71,257.14 L544.25,257.31 L544.79,257.55 L545.33,257.85 L545.87,258.22 L546.41,258.64 L546.94,259.10 L547.48,259.59 L548.02,260.12 L548.56,260.67 L549.10,261.23 L549.64,261.80 L550.18,262.36 L550.71,262.92 L551.25,263.47 L551.79,263.99 L552.33,264.48 L552.87,264.93 L553.41,265.34 L553.95,265.69 L554.48,265.98 L555.02,266.21 L555.56,266.36 L556.10,266.44 L556.64,266.50 L557.18,266.55 L557.71,266.60 L558.25,266.64 L558.79,266.67 L559.33,266.70 L559.87,266.73 L560.41,266.75 L560.95,266.77 L561.48,266.80 L562.02,266.83 L562.56,266.86 L563.10,266.90 L563.64,266.94 L564.18,266.99 L564.72,267.05 L565.25,267.12 L565.79,267.26 L566.33,267.48 L566.87,267.77 L567.41,268.11 L567.95,268.50 L568.48,268.94 L569.02,269.40 L569.56,269.89 L570.10,270.39 L570.64,270.89 L571.18,271.39 L571.72,271.88 L572.25,272.33 L572.79,272.76 L573.33,273.14 L573.87,273.47 L574.41,273.74 L574.95,273.94 L575.49,274.07 L576.02,274.10 L576.56,274.11 L577.10,274.11 L577.64,274.11 L578.18,274.11 L578.72,274.11 L579.25,274.11 L579.79,274.11 L580.33,274.10 L580.87,274.10 L581.41,274.10 L581.95,274.09 L582.49,274.09 L583.02,274.10 L583.56,274.10 L584.10,274.12 L584.64,274.19 L585.18,274.28 L585.72,274.40 L586.26,274.54 L586.79,274.70 L587.33,274.86 L587.87,275.02 L588.41,275.17 L588.95,275.31 L589.49,275.43 L590.02,275.52 L590.56,275.58 L591.10,275.60 L591.64,275.58 L592.18,275.51 L592.72,275.40 L593.26,275.26 L593.79,275.08 L594.33,274.88 L594.87,274.65 L595.41,274.40 L595.95,274.13 L596.49,273.85 L597.03,273.56 L597.56,273.26 L598.10,272.88 L598.64,272.38 L599.18,271.80 L599.72,271.17 L600.26,270.53 L600.79,269.91 L601.33,269.34 L601.87,268.87 L602.41,268.50 L602.95,268.18 L603.49,267.90 L604.03,267.64 L604.56,267.41 L605.10,267.20 L605.64,267.00 L606.18,266.81 L606.72,266.61 L607.26,266.41 L607.80,266.19 L608.33,265.96 L608.87,265.70 L609.41,265.41 L609.95,265.09 L610.49,264.73 L611.03,264.32 L611.56,263.84 L612.10,263.11 L612.64,262.13 L613.18,260.97 L613.72,259.72 L614.26,258.46 L614.80,257.18 L615.33,255.65 L615.87,253.89 L616.41,251.98 L616.95,250.00 L617.49,248.03 L618.03,246.16 L618.57,244.45 L619.10,242.99 L619.64,241.86 L620.15,241.17 L620.18,241.14 L620.72,240.88 L621.26,240.95 L621.80,241.21 L622.03,241.36 L622.33,241.60 L622.87,242.05 L623.41,242.50 L623.69,242.72 L623.95,242.91 L624.49,243.20 L625.03,243.43 L625.16,243.50 L625.57,243.69 L626.10,243.91 L626.46,244.01 L626.64,244.04 L627.18,244.01 L627.61,243.84 L627.72,243.76 L628.26,243.25 L628.62,242.72 L628.80,242.40 L629.34,241.15 L629.52,240.65 L629.87,239.56 L630.31,238.02 L630.41,237.61 L630.95,235.17 L631.01,234.89 L631.49,232.11 L631.62,231.23 L632.03,228.23 L632.17,227.05 L632.57,223.25 L632.65,222.36 L633.08,217.21 L633.10,216.81 L633.45,211.65 L633.64,208.35 L633.78,205.74 L634.08,199.54 L634.18,197.05 L634.34,193.11 L634.56,186.52 L634.72,181.44 L634.77,179.81 L634.95,173.03 L635.10,166.22 L635.24,159.43 L635.26,158.61 L635.37,152.69 L635.48,146.03 L635.57,139.51 L635.66,133.15 L635.73,127.02 L635.80,121.15 L635.80,121.14 L635.86,115.57 L635.91,110.36 L635.95,105.54 L635.99,101.15 L636.03,97.20 L636.06,93.72 L636.09,90.68 L636.11,88.07 L636.14,85.87 L636.15,84.03 L636.17,82.51 L636.19,81.27 L636.20,80.26 L636.21,79.45 L636.22,78.80 L636.23,78.28 L636.24,77.87 L636.25,77.55 L636.25,77.30 L636.26,77.10 L636.26,76.94 L636.27,76.82 L636.27,76.72 L636.27,76.64 L636.28,76.59 L636.28,76.54 L636.28,76.50 L636.28,76.48 L636.29,76.45 L636.29,76.44 L636.29,76.42 L636.30,76.37 L636.31,76.42 L636.31,76.44 L636.31,76.45 L636.32,76.48 L636.32,76.50 L636.32,76.54 L636.32,76.59 L636.33,76.64 L636.33,76.72 L636.33,76.82 L636.34,76.90 L636.34,76.94 L636.34,77.10 L636.35,77.30 L636.35,77.55 L636.36,77.87 L636.37,78.28 L636.38,78.80 L636.39,79.45 L636.40,80.26 L636.41,81.27 L636.43,82.51 L636.45,84.03 L636.46,85.87 L636.49,88.07 L636.51,90.68 L636.54,93.72 L636.57,97.20 L636.61,101.15 L636.65,105.54 L636.69,110.36 L636.74,115.57 L636.80,121.14 L636.87,127.01 L636.87,127.51 L636.94,133.15 L637.03,139.50 L637.12,146.02 L637.15,147.31 L637.23,152.67 L637.36,159.41 L637.41,162.24 L637.50,166.19 L637.65,172.98 L637.83,179.74 L637.95,183.77 L638.04,186.41 L638.26,192.95 L638.49,198.54 L638.52,199.30 L638.82,205.40 L639.03,209.19 L639.03,209.20 L639.15,211.16 L639.52,216.51 L639.57,217.04 L639.95,221.37 L640.11,222.87 L640.43,225.66 L640.64,227.21 L640.69,227.54 L640.98,229.32 L641.18,230.42 L641.59,232.28 L641.72,232.77 L642.16,234.17 L642.26,234.43 L642.29,234.51 L642.80,235.54 L643.08,235.94 L643.34,236.20 L643.46,236.29 L643.87,236.46 L643.98,236.46 L644.41,236.35 L644.61,236.23 L644.95,235.91 L644.99,235.86 L645.49,235.11 L645.62,234.86 L646.03,233.94 L646.14,233.65 L646.52,232.52 L646.57,232.35 L647.11,230.29 L647.31,229.38 L647.44,228.74 L647.64,227.67 L648.01,225.54 L648.18,224.37 L648.62,221.07 L648.72,220.24 L648.91,218.59 L649.17,216.05 L649.26,215.09 L649.65,210.57 L649.80,208.64 L650.08,204.69 L650.34,200.49 L650.45,198.49 L650.57,196.27 L650.78,192.04 L650.88,190.06 L651.08,185.40 L651.34,178.62 L651.41,176.38 L651.56,171.75 L651.77,164.82 L651.95,157.88 L651.95,157.60 L652.10,150.94 L652.24,144.05 L652.37,137.23 L652.46,131.82 L652.48,130.52 L652.49,129.49 L652.57,123.95 L652.66,117.57 L652.73,111.40 L652.80,105.51 L652.86,99.93 L652.91,94.70 L652.95,89.88 L652.99,85.48 L653.03,81.55 L653.03,81.53 L653.06,78.04 L653.09,75.00 L653.11,72.39 L653.14,70.19 L653.15,68.34 L653.17,66.82 L653.19,65.58 L653.20,64.57 L653.21,63.76 L653.22,63.11 L653.23,62.60 L653.24,62.19 L653.25,61.86 L653.25,61.61 L653.26,61.41 L653.26,61.25 L653.27,61.13 L653.27,61.03 L653.27,60.96 L653.28,60.90 L653.28,60.85 L653.28,60.82 L653.28,60.79 L653.29,60.77 L653.29,60.75 L653.29,60.73 L653.30,60.69 L653.31,60.73 L653.31,60.75 L653.31,60.77 L653.32,60.79 L653.32,60.82 L653.32,60.85 L653.32,60.90 L653.33,60.96 L653.33,61.03 L653.33,61.13 L653.34,61.25 L653.34,61.41 L653.35,61.61 L653.35,61.86 L653.36,62.19 L653.37,62.60 L653.38,63.11 L653.39,63.76 L653.40,64.57 L653.41,65.58 L653.43,66.82 L653.45,68.34 L653.46,70.19 L653.49,72.39 L653.51,75.00 L653.54,78.04 L653.57,81.28 L653.57,81.53 L653.61,85.48 L653.65,89.88 L653.69,94.70 L653.74,99.93 L653.80,105.51 L653.87,111.40 L653.94,117.57 L654.03,123.95 L654.11,129.32 L654.12,130.52 L654.23,137.23 L654.36,144.05 L654.50,150.94 L654.64,157.50 L654.65,157.88 L654.83,164.83 L655.04,171.76 L655.18,176.32 L655.26,178.64 L655.52,185.43 L655.72,190.04 L655.82,192.09 L656.15,198.56 L656.26,200.52 L656.52,204.79 L656.80,208.74 L656.95,210.72 L657.34,215.28 L657.43,216.29 L657.88,220.55 L657.98,221.43 L658.41,224.83 L658.59,226.07 L658.95,228.32 L659.29,230.19 L659.49,231.17 L660.03,233.53 L660.08,233.74 L660.57,235.47 L660.98,236.72 L661.11,237.08 L661.65,238.41 L661.99,239.14 L662.18,239.51 L662.72,240.24 L663.14,240.07 L663.26,239.90 L663.80,238.53 L664.34,236.31 L664.44,235.82 L664.88,233.48 L665.41,230.31 L665.91,227.37 L665.95,227.10 L666.49,224.19 L667.03,221.89 L667.57,219.78 L667.57,219.77 L668.11,217.59 L668.65,215.65 L669.18,214.27 L669.46,213.90 L669.72,213.80 L670.26,214.46 L670.80,216.02 L671.34,218.21 L671.88,220.71 L672.42,223.24 L672.95,225.51 L673.49,227.86 L674.03,230.55 L674.57,233.47 L675.11,236.50 L675.65,239.53 L676.18,242.44 L676.72,245.11 L677.26,247.44 L677.80,249.32 L678.34,250.65 L678.88,251.33 L679.42,251.37 L679.95,251.16 L680.49,250.80 L681.03,250.28 L681.57,249.64 L682.11,248.88 L682.65,248.03 L683.19,247.10 L683.72,246.11 L684.26,245.08 L684.80,244.02 L685.34,242.95 L685.88,241.90 L686.42,240.87 L686.95,239.89 L687.49,238.96 L688.03,238.12 L688.57,237.38 L689.11,236.74 L689.65,236.24 L690.19,235.87 L690.72,235.67 L691.05,235.67 L691.26,235.73 L691.80,236.08 L692.34,236.69 L692.88,237.53 L692.93,237.61 L693.42,238.55 L693.96,239.72 L694.49,240.98 L694.59,241.21 L695.03,242.26 L695.57,243.51 L696.06,244.54 L696.11,244.63 L696.65,245.53 L697.19,246.12 L697.36,246.23 L697.72,246.30 L698.26,246.27 L698.51,246.56 L698.80,246.88 L699.34,246.48 L699.52,245.97 L699.88,244.40 L700.42,240.94 L700.42,240.93 L700.96,236.47 L701.21,234.13 L701.49,231.30 L701.91,226.98 L702.03,225.57 L702.52,219.77 L702.57,219.16 L703.07,212.52 L703.11,211.93 L703.55,205.25 L703.65,203.64 L703.98,197.96 L704.19,193.96 L704.35,190.66 L704.68,183.37 L704.73,182.37 L704.98,176.08 L705.24,168.81 L705.26,167.97 L705.46,161.57 L705.67,154.36 L705.80,149.02 L705.85,147.21 L706.00,140.12 L706.14,133.11 L706.27,126.20 L706.34,121.63 L706.38,119.43 L706.47,112.81 L706.56,106.39 L706.63,100.20 L706.70,94.28 L706.76,88.69 L706.81,83.45 L706.85,78.62 L706.88,75.81 L706.89,74.21 L706.93,70.26 L706.96,66.77 L706.99,63.72 L707.01,61.11 L707.04,58.91 L707.05,57.06 L707.07,55.54 L707.09,54.29 L707.10,53.29 L707.11,52.48 L707.12,51.83 L707.13,51.31 L707.14,50.90 L707.15,50.58 L707.15,50.32 L707.16,50.12 L707.16,49.96 L707.17,49.84 L707.17,49.75 L707.17,49.67 L707.18,49.61 L707.18,49.56 L707.18,49.53 L707.18,49.50 L707.19,49.48 L707.19,49.46 L707.19,49.45 L707.20,49.40 L707.21,49.45 L707.21,49.46 L707.21,49.48 L707.22,49.50 L707.22,49.53 L707.22,49.56 L707.22,49.61 L707.23,49.67 L707.23,49.75 L707.23,49.84 L707.24,49.96 L707.24,50.12 L707.25,50.32 L707.25,50.58 L707.26,50.90 L707.27,51.31 L707.28,51.83 L707.29,52.48 L707.30,53.29 L707.31,54.29 L707.33,55.54 L707.35,57.06 L707.36,58.91 L707.39,61.11 L707.41,63.72 L707.42,64.49 L707.44,66.77 L707.47,70.26 L707.51,74.21 L707.55,78.62 L707.59,83.45 L707.64,88.69 L707.70,94.28 L707.77,100.20 L707.84,106.39 L707.93,112.81 L707.96,114.80 L708.02,119.43 L708.13,126.20 L708.26,133.10 L708.40,140.11 L708.49,144.64 L708.55,147.20 L708.73,154.35 L708.94,161.55 L709.03,164.76 L709.16,168.78 L709.42,176.03 L709.57,179.82 L709.72,183.29 L710.05,190.55 L710.11,191.81 L710.42,197.79 L710.65,201.71 L710.85,205.00 L711.19,210.11 L711.33,212.15 L711.73,217.36 L711.88,219.22 L712.26,223.70 L712.49,226.17 L712.80,229.29 L713.19,232.94 L713.34,234.25 L713.88,238.67 L713.98,239.46 L714.42,242.60 L714.88,245.62 L714.96,246.10 L715.50,249.21 L715.89,251.27 L716.03,251.96 L716.57,254.37 L717.04,256.20 L717.11,256.46 L717.65,258.25 L718.19,259.72 L718.34,260.06 L718.73,260.80 L719.26,261.50 L719.80,261.83 L719.81,261.83 L720.34,261.83 L720.88,261.54 L721.42,261.01 L721.47,260.95 L721.96,260.34 L722.50,259.58 L723.03,258.84 L723.36,258.44 L723.57,258.20 L724.11,257.75 L724.65,257.57 L725.19,257.76 L725.73,258.30 L726.27,259.14 L726.80,260.23 L727.34,261.49 L727.88,262.88 L728.42,264.33 L728.96,265.78 L729.50,267.17 L730.03,268.44 L730.57,269.54 L731.11,270.69 L731.65,271.91 L732.19,273.12 L732.73,274.25 L733.27,275.23 L733.80,275.98 L734.34,276.43 L734.88,276.59 L735.42,276.65 L735.96,276.63 L736.50,276.58 L737.04,276.51 L737.57,276.46 L738.11,276.44 L738.65,276.49 L739.19,276.60 L739.73,276.73 L740.27,276.88 L740.80,277.03 L741.34,277.20 L741.88,277.38 L742.42,277.55 L742.96,277.73 L743.50,277.91 L744.04,278.08 L744.57,278.24 L745.11,278.39 L745.65,278.52 L746.19,278.64 L746.73,278.75 L747.27,278.85 L747.81,278.95 L748.34,279.04 L748.88,279.13 L749.42,279.22 L749.96,279.30 L750.50,279.38 L751.04,279.46 L751.58,279.54" fill="none" stroke="#000" stroke-width="1.0" stroke-dasharray="4,3.5" stroke-linejoin="round" clip-path="url(#cb)"/>
<rect x="434.2" y="26.0" width="312.8" height="255.0" fill="none" stroke="#333" stroke-width="1.3"/>
<path d="M455.40,281.0 v5 M482.32,281.0 v3 M509.25,281.0 v5 M536.17,281.0 v3 M563.10,281.0 v5 M590.02,281.0 v3 M616.95,281.0 v5 M643.88,281.0 v3 M670.80,281.0 v5 M697.72,281.0 v3 M724.65,281.0 v5 M434.2,28.44 h-3 M434.2,42.80 h-5 M434.2,57.16 h-3 M434.2,71.52 h-5 M434.2,85.87 h-3 M434.2,100.23 h-5 M434.2,114.59 h-3 M434.2,128.94 h-5 M434.2,143.30 h-3 M434.2,157.66 h-5 M434.2,172.02 h-3 M434.2,186.38 h-5 M434.2,200.73 h-3 M434.2,215.09 h-5 M434.2,229.45 h-3 M434.2,243.81 h-5 M434.2,258.16 h-3 M434.2,272.52 h-5" stroke="#333" stroke-width="1.2" fill="none"/>
<text x="455.4" y="298.2" font-size="11" text-anchor="middle" textLength="22.5" lengthAdjust="spacingAndGlyphs" >1525</text>
<text x="509.2" y="298.2" font-size="11" text-anchor="middle" textLength="22.5" lengthAdjust="spacingAndGlyphs" >1530</text>
<text x="563.1" y="298.2" font-size="11" text-anchor="middle" textLength="22.5" lengthAdjust="spacingAndGlyphs" >1535</text>
<text x="616.9" y="298.2" font-size="11" text-anchor="middle" textLength="22.5" lengthAdjust="spacingAndGlyphs" >1540</text>
<text x="670.8" y="298.2" font-size="11" text-anchor="middle" textLength="22.5" lengthAdjust="spacingAndGlyphs" >1545</text>
<text x="724.6" y="298.2" font-size="11" text-anchor="middle" textLength="22.5" lengthAdjust="spacingAndGlyphs" >1550</text>
<text x="426.3" y="46.1" font-size="11" text-anchor="end" textLength="15.3" lengthAdjust="spacingAndGlyphs" >-25</text>
<text x="426.3" y="74.8" font-size="11" text-anchor="end" textLength="15.3" lengthAdjust="spacingAndGlyphs" >-30</text>
<text x="426.3" y="103.5" font-size="11" text-anchor="end" textLength="15.3" lengthAdjust="spacingAndGlyphs" >-35</text>
<text x="426.3" y="132.2" font-size="11" text-anchor="end" textLength="15.3" lengthAdjust="spacingAndGlyphs" >-40</text>
<text x="426.3" y="161.0" font-size="11" text-anchor="end" textLength="15.3" lengthAdjust="spacingAndGlyphs" >-45</text>
<text x="426.3" y="189.7" font-size="11" text-anchor="end" textLength="15.3" lengthAdjust="spacingAndGlyphs" >-50</text>
<text x="426.3" y="218.4" font-size="11" text-anchor="end" textLength="15.3" lengthAdjust="spacingAndGlyphs" >-55</text>
<text x="426.3" y="247.1" font-size="11" text-anchor="end" textLength="15.3" lengthAdjust="spacingAndGlyphs" >-60</text>
<text x="426.3" y="275.8" font-size="11" text-anchor="end" textLength="15.3" lengthAdjust="spacingAndGlyphs" >-65</text>
<text x="540.7" y="318.7" font-size="14" text-anchor="start" textLength="99" lengthAdjust="spacingAndGlyphs" >Wavelength, nm</text>
<text transform="translate(402.8,221.0) rotate(-90)" font-size="13.5" textLength="118" lengthAdjust="spacingAndGlyphs">Output Power, dBm</text>
<text x="435.0" y="13.9" font-size="18" text-anchor="start" >b</text>
<text x="445.2" y="14.5" font-size="17" text-anchor="start" >)</text>
<text x="439.3" y="37.4" font-size="11">λ</text>
<text x="446.3" y="41.8" font-size="6.5">1</text>
<text x="449.8" y="37.4" font-size="12" textLength="63.5" lengthAdjust="spacingAndGlyphs">=1526.58nm</text>
<text x="477.4" y="52.0" font-size="11">λ</text>
<text x="484.4" y="56.4" font-size="6.5">2</text>
<text x="487.9" y="52.0" font-size="12" textLength="64" lengthAdjust="spacingAndGlyphs">=1528.01nm</text>
<text x="528.3" y="98.2" font-size="11">λ</text>
<text x="535.3" y="102.6" font-size="6.5">3</text>
<text x="538.8" y="98.2" font-size="12" textLength="63.6" lengthAdjust="spacingAndGlyphs">=1529.08nm</text>
<text x="565.8" y="54.0" font-size="11">λ</text>
<text x="572.8" y="58.4" font-size="6.5">2</text>
<text x="576.3" y="54.0" font-size="12" textLength="64.9" lengthAdjust="spacingAndGlyphs">=1543.34nm</text>
<text x="536.3" y="130.0" font-size="11">λ</text>
<text x="543.3" y="134.4" font-size="6.5">1</text>
<text x="546.8" y="130.0" font-size="12" textLength="64.8" lengthAdjust="spacingAndGlyphs">=1541.75nm</text>
<text x="666.9" y="37.7" font-size="11">λ</text>
<text x="673.9" y="42.1" font-size="6.5">3</text>
<text x="677.4" y="37.7" font-size="12" textLength="63.7" lengthAdjust="spacingAndGlyphs">=1548.34nm</text>
<path d="M473.3,40 V50 M507.4,53.9 L491.5,76.4 M528.3,96.4 H509 M639.4,52.9 L646,56.5 M611.6,127.2 H628" stroke="#000" stroke-width="1" fill="none"/>
<path d="M473.30,55.00 L471.10,49.00 L475.50,49.00 Z" fill="#000"/>
<path d="M488.50,80.60 L490.17,74.43 L493.76,76.97 Z" fill="#000"/>
<path d="M504.00,96.40 L510.00,94.20 L510.00,98.60 Z" fill="#000"/>
<path d="M650.20,58.60 L643.87,57.75 L645.92,53.85 Z" fill="#000"/>
<path d="M633.50,127.20 L627.50,129.40 L627.50,125.00 Z" fill="#000"/>
<path d="M707.00,45.50 L704.80,39.50 L709.20,39.50 Z" fill="#000"/>
<defs><clipPath id="cd"><rect x="474.2" y="361.4" width="298.2" height="244.10000000000002"/></clipPath></defs>
<path d="M474.20,411.90 L486.13,408.80 L498.06,404.30 L509.98,410.40 L521.91,404.70 L533.84,406.10 L545.77,403.00 L557.70,401.20 L569.62,399.10 L581.55,401.20 L593.48,398.50 L605.41,400.60 L617.34,397.80 L629.26,399.40 L641.19,400.50 L653.12,399.40 L665.05,397.70 L676.98,396.20 L688.90,399.00 L700.83,395.80 L712.76,403.30 L724.69,396.80 L736.62,399.00 L748.54,396.20 L760.47,402.70 L772.40,399.40" fill="none" stroke="#000" stroke-width="1" clip-path="url(#cd)"/>
<path d="M474.20,557.60 L486.13,562.50 L498.06,563.10 L509.98,558.60 L521.91,554.30 L533.84,565.20 L545.77,560.50 L557.70,561.10 L569.62,564.60 L581.55,564.60 L593.48,560.00 L605.41,564.60 L617.34,561.50 L629.26,563.50 L641.19,563.50 L653.12,561.90 L665.05,564.10 L676.98,566.70 L688.90,559.10 L700.83,563.00 L712.76,559.80 L724.69,560.20 L736.62,564.10 L748.54,557.60 L760.47,558.30 L772.40,558.70" fill="none" stroke="#000" stroke-width="1" clip-path="url(#cd)"/>
<path d="M474.20,504.30 L486.13,509.90 L498.06,504.30 L509.98,520.10 L521.91,509.90 L533.84,509.90 L545.77,516.00 L557.70,520.10 L569.62,522.20 L581.55,523.20 L593.48,522.80 L605.41,524.30 L617.34,525.10 L629.26,528.20 L641.19,528.20 L653.12,529.80 L665.05,535.10 L676.98,533.40 L688.90,539.90 L700.83,540.10 L712.76,536.20 L724.69,535.60 L736.62,538.40 L748.54,540.60 L760.47,541.60 L772.40,543.40" fill="none" stroke="#000" stroke-width="1" clip-path="url(#cd)"/>
<g clip-path="url(#cd)"><circle cx="474.20" cy="411.90" r="4.1"/><circle cx="486.13" cy="408.80" r="4.1"/><circle cx="498.06" cy="404.30" r="4.1"/><circle cx="509.98" cy="410.40" r="4.1"/><circle cx="521.91" cy="404.70" r="4.1"/><circle cx="533.84" cy="406.10" r="4.1"/><circle cx="545.77" cy="403.00" r="4.1"/><circle cx="557.70" cy="401.20" r="4.1"/><circle cx="569.62" cy="399.10" r="4.1"/><circle cx="581.55" cy="401.20" r="4.1"/><circle cx="593.48" cy="398.50" r="4.1"/><circle cx="605.41" cy="400.60" r="4.1"/><circle cx="617.34" cy="397.80" r="4.1"/><circle cx="629.26" cy="399.40" r="4.1"/><circle cx="641.19" cy="400.50" r="4.1"/><circle cx="653.12" cy="399.40" r="4.1"/><circle cx="665.05" cy="397.70" r="4.1"/><circle cx="676.98" cy="396.20" r="4.1"/><circle cx="688.90" cy="399.00" r="4.1"/><circle cx="700.83" cy="395.80" r="4.1"/><circle cx="712.76" cy="403.30" r="4.1"/><circle cx="724.69" cy="396.80" r="4.1"/><circle cx="736.62" cy="399.00" r="4.1"/><circle cx="748.54" cy="396.20" r="4.1"/><circle cx="760.47" cy="402.70" r="4.1"/><circle cx="772.40" cy="399.40" r="4.1"/><rect x="470.60" y="554.00" width="7.2" height="7.2"/><rect x="482.53" y="558.90" width="7.2" height="7.2"/><rect x="494.46" y="559.50" width="7.2" height="7.2"/><rect x="506.38" y="555.00" width="7.2" height="7.2"/><rect x="518.31" y="550.70" width="7.2" height="7.2"/><rect x="530.24" y="561.60" width="7.2" height="7.2"/><rect x="542.17" y="556.90" width="7.2" height="7.2"/><rect x="554.10" y="557.50" width="7.2" height="7.2"/><rect x="566.02" y="561.00" width="7.2" height="7.2"/><rect x="577.95" y="561.00" width="7.2" height="7.2"/><rect x="589.88" y="556.40" width="7.2" height="7.2"/><rect x="601.81" y="561.00" width="7.2" height="7.2"/><rect x="613.74" y="557.90" width="7.2" height="7.2"/><rect x="625.66" y="559.90" width="7.2" height="7.2"/><rect x="637.59" y="559.90" width="7.2" height="7.2"/><rect x="649.52" y="558.30" width="7.2" height="7.2"/><rect x="661.45" y="560.50" width="7.2" height="7.2"/><rect x="673.38" y="563.10" width="7.2" height="7.2"/><rect x="685.30" y="555.50" width="7.2" height="7.2"/><rect x="697.23" y="559.40" width="7.2" height="7.2"/><rect x="709.16" y="556.20" width="7.2" height="7.2"/><rect x="721.09" y="556.60" width="7.2" height="7.2"/><rect x="733.02" y="560.50" width="7.2" height="7.2"/><rect x="744.94" y="554.00" width="7.2" height="7.2"/><rect x="756.87" y="554.70" width="7.2" height="7.2"/><rect x="768.80" y="555.10" width="7.2" height="7.2"/><path d="M474.20,499.40 L478.70,507.20 L469.70,507.20 Z"/><path d="M486.13,505.00 L490.63,512.80 L481.63,512.80 Z"/><path d="M498.06,499.40 L502.56,507.20 L493.56,507.20 Z"/><path d="M509.98,515.20 L514.48,523.00 L505.48,523.00 Z"/><path d="M521.91,505.00 L526.41,512.80 L517.41,512.80 Z"/><path d="M533.84,505.00 L538.34,512.80 L529.34,512.80 Z"/><path d="M545.77,511.10 L550.27,518.90 L541.27,518.90 Z"/><path d="M557.70,515.20 L562.20,523.00 L553.20,523.00 Z"/><path d="M569.62,517.30 L574.12,525.10 L565.12,525.10 Z"/><path d="M581.55,518.30 L586.05,526.10 L577.05,526.10 Z"/><path d="M593.48,517.90 L597.98,525.70 L588.98,525.70 Z"/><path d="M605.41,519.40 L609.91,527.20 L600.91,527.20 Z"/><path d="M617.34,520.20 L621.84,528.00 L612.84,528.00 Z"/><path d="M629.26,523.30 L633.76,531.10 L624.76,531.10 Z"/><path d="M641.19,523.30 L645.69,531.10 L636.69,531.10 Z"/><path d="M653.12,524.90 L657.62,532.70 L648.62,532.70 Z"/><path d="M665.05,530.20 L669.55,538.00 L660.55,538.00 Z"/><path d="M676.98,528.50 L681.48,536.30 L672.48,536.30 Z"/><path d="M688.90,535.00 L693.40,542.80 L684.40,542.80 Z"/><path d="M700.83,535.20 L705.33,543.00 L696.33,543.00 Z"/><path d="M712.76,531.30 L717.26,539.10 L708.26,539.10 Z"/><path d="M724.69,530.70 L729.19,538.50 L720.19,538.50 Z"/><path d="M736.62,533.50 L741.12,541.30 L732.12,541.30 Z"/><path d="M748.54,535.70 L753.04,543.50 L744.04,543.50 Z"/><path d="M760.47,536.70 L764.97,544.50 L755.97,544.50 Z"/><path d="M772.40,538.50 L776.90,546.30 L767.90,546.30 Z"/></g>
<rect x="474.2" y="361.4" width="298.2" height="244.10000000000002" fill="none" stroke="#000" stroke-width="1.2"/>
<path d="M474.20,605.5 v5 M504.02,605.5 v3 M533.84,605.5 v5 M563.66,605.5 v3 M593.48,605.5 v5 M623.30,605.5 v3 M653.12,605.5 v5 M682.94,605.5 v3 M712.76,605.5 v5 M742.58,605.5 v3 M772.40,605.5 v5 M474.2,361.40 h-5.5 M474.2,371.57 h-3 M474.2,381.74 h-5.5 M474.2,391.91 h-3 M474.2,402.08 h-5.5 M474.2,412.25 h-3 M474.2,422.42 h-5.5 M474.2,432.59 h-3 M474.2,442.76 h-5.5 M474.2,452.93 h-3 M474.2,463.10 h-5.5 M474.2,473.27 h-3 M474.2,483.44 h-5.5 M474.2,493.61 h-3 M474.2,503.78 h-5.5 M474.2,513.95 h-3 M474.2,524.12 h-5.5 M474.2,534.29 h-3 M474.2,544.46 h-5.5 M474.2,554.63 h-3 M474.2,564.80 h-5.5 M474.2,574.97 h-3 M474.2,585.14 h-5.5 M474.2,595.31 h-3 M474.2,605.48 h-5.5" stroke="#000" stroke-width="1.1" fill="none"/>
<text x="474.2" y="622.6" font-size="11" text-anchor="middle" >0</text>
<text x="533.8" y="622.6" font-size="11" text-anchor="middle" >10</text>
<text x="593.5" y="622.6" font-size="11" text-anchor="middle" >20</text>
<text x="653.1" y="622.6" font-size="11" text-anchor="middle" >30</text>
<text x="712.8" y="622.6" font-size="11" text-anchor="middle" >40</text>
<text x="772.4" y="622.6" font-size="11" text-anchor="middle" >50</text>
<text x="465.9" y="365.3" font-size="10.8" text-anchor="end" textLength="24.8" lengthAdjust="spacingAndGlyphs" >-25.0</text>
<text x="465.9" y="385.6" font-size="10.8" text-anchor="end" textLength="24.8" lengthAdjust="spacingAndGlyphs" >-25.5</text>
<text x="465.9" y="406.0" font-size="10.8" text-anchor="end" textLength="24.8" lengthAdjust="spacingAndGlyphs" >-26.0</text>
<text x="465.9" y="426.3" font-size="10.8" text-anchor="end" textLength="24.8" lengthAdjust="spacingAndGlyphs" >-26.5</text>
<text x="465.9" y="446.7" font-size="10.8" text-anchor="end" textLength="24.8" lengthAdjust="spacingAndGlyphs" >-27.0</text>
<text x="465.9" y="467.0" font-size="10.8" text-anchor="end" textLength="24.8" lengthAdjust="spacingAndGlyphs" >-27.5</text>
<text x="465.9" y="487.3" font-size="10.8" text-anchor="end" textLength="24.8" lengthAdjust="spacingAndGlyphs" >-28.0</text>
<text x="465.9" y="507.7" font-size="10.8" text-anchor="end" textLength="24.8" lengthAdjust="spacingAndGlyphs" >-28.5</text>
<text x="465.9" y="528.0" font-size="10.8" text-anchor="end" textLength="24.8" lengthAdjust="spacingAndGlyphs" >-29.0</text>
<text x="465.9" y="548.4" font-size="10.8" text-anchor="end" textLength="24.8" lengthAdjust="spacingAndGlyphs" >-29.5</text>
<text x="465.9" y="568.7" font-size="10.8" text-anchor="end" textLength="24.8" lengthAdjust="spacingAndGlyphs" >-30.0</text>
<text x="465.9" y="589.0" font-size="10.8" text-anchor="end" textLength="24.8" lengthAdjust="spacingAndGlyphs" >-30.5</text>
<text x="465.9" y="609.4" font-size="10.8" text-anchor="end" textLength="24.8" lengthAdjust="spacingAndGlyphs" >-31.0</text>
<text x="592.3" y="644.0" font-size="14" text-anchor="start" textLength="61.7" lengthAdjust="spacingAndGlyphs" >Time, min</text>
<text transform="translate(405.0,518.8) rotate(-90)" font-size="15" textLength="133" lengthAdjust="spacingAndGlyphs">Output Power, dBm</text>
<text transform="translate(433.0,554.4) rotate(-90)" font-size="14" textLength="124.4" lengthAdjust="spacingAndGlyphs">Output Power, dBm</text>
<text x="475.0" y="350.8" font-size="18.5" text-anchor="start" >d</text>
<text x="486.2" y="351.5" font-size="18.5" text-anchor="start" >)</text>
<path d="M582.6,435.5 H609.3 M582.6,454.3 H609.3 M582.6,473.3 H609.3" stroke="#000" stroke-width="1"/>
<rect x="592.1" y="431.4" width="8.2" height="8.2"/><circle cx="596.2" cy="454.3" r="3.9"/><path d="M596.2,467.4 L600.8,475.6 L591.6,475.6 Z"/>
<text x="612.9" y="439.8" font-size="11">λ</text>
<text x="619.9" y="444.2" font-size="6.5">1</text>
<text x="624.7" y="439.8" font-size="12" textLength="48.2" lengthAdjust="spacingAndGlyphs">=1526nm</text>
<text x="612.9" y="458.6" font-size="11">λ</text>
<text x="619.9" y="463.0" font-size="6.5">2</text>
<text x="624.7" y="458.6" font-size="12" textLength="48.2" lengthAdjust="spacingAndGlyphs">=1528nm</text>
<text x="612.9" y="477.6" font-size="11">λ</text>
<text x="619.9" y="482.0" font-size="6.5">3</text>
<text x="624.7" y="477.6" font-size="12" textLength="48.2" lengthAdjust="spacingAndGlyphs">=1548nm</text>
<path d="M103.50,378.4 V533.8 M147.50,378.4 V533.8 M192.50,378.4 V533.8 M237.50,378.4 V533.8 M281.50,378.4 V533.8 M326.50,378.4 V533.8 M76.3,393.50 H344.6 M76.3,411.50 H344.6 M76.3,430.50 H344.6 M76.3,449.50 H344.6 M76.3,468.50 H344.6 M76.3,487.50 H344.6 M76.3,505.50 H344.6 M76.3,524.50 H344.6 M65.53,389.50 V544.90 M40.65,415.13 V570.53 M15.70,440.84 V596.24 M76.3,393.20 l-69.50,71.60 M76.3,411.97 l-69.50,71.60 M76.3,430.75 l-69.50,71.60 M76.3,449.52 l-69.50,71.60 M76.3,468.30 l-69.50,71.60 M76.3,487.07 l-69.50,71.60 M76.3,505.85 l-69.50,71.60 M76.3,524.62 l-69.50,71.60" stroke="#d2d2d2" stroke-width="1" fill="none"/>
<path d="M76.3,533.8 V378.4 l-69.5,71.6 V605.4" stroke="#777" stroke-width="1" fill="none"/>
<path d="M6.799999999999997,450.0 L76.3,378.4 H344.6 V533.8" stroke="#222" stroke-width="1.0" fill="none"/>
<g fill="#fff" stroke="#000" stroke-width="0.9" stroke-linejoin="round"><path d="M76.3,533.8 L76.3,532.9 L79.5,531.9 L82.7,530.3 L86.0,528.1 L88.1,526.1 L95.6,518.0 L97.8,515.4 L98.8,513.6 L102.0,505.8 L103.1,504.1 L104.2,502.9 L105.3,502.1 L107.4,502.3 L108.4,502.1 L109.5,501.5 L110.4,500.8 L112.0,498.9 L112.8,497.3 L113.8,494.4 L114.9,489.5 L115.5,484.6 L116.2,475.9 L116.6,465.8 L117.2,439.8 L117.6,392.2 L117.9,432.4 L118.3,454.8 L118.9,472.5 L119.7,484.2 L120.3,488.6 L121.1,491.9 L122.0,494.1 L122.6,494.7 L123.3,495.1 L124.0,495.2 L124.8,494.9 L125.5,494.4 L126.7,492.7 L127.5,490.7 L128.5,486.7 L129.6,478.9 L130.3,469.2 L130.8,458.4 L131.5,427.9 L131.9,380.0 L132.5,435.5 L132.9,454.7 L133.6,469.3 L134.3,479.2 L135.4,487.4 L136.4,492.1 L137.4,495.1 L138.3,496.7 L139.1,498.0 L140.1,499.0 L141.2,499.7 L141.7,499.7 L142.8,498.9 L145.3,495.4 L146.0,494.8 L147.1,494.8 L148.2,496.5 L150.3,501.4 L152.5,504.8 L153.5,506.2 L155.7,508.0 L156.8,508.7 L157.8,509.1 L162.1,509.7 L163.2,510.0 L170.7,516.1 L173.9,517.5 L180.4,519.6 L182.5,520.7 L185.7,522.9 L187.9,524.0 L195.4,525.7 L200.7,528.1 L202.9,528.7 L207.2,529.3 L214.7,529.8 L219.0,530.6 L220.1,530.7 L222.2,530.4 L227.6,529.2 L235.1,529.0 L236.1,528.7 L241.5,526.6 L247.9,525.7 L251.2,524.9 L253.3,524.1 L255.5,522.8 L256.5,522.3 L257.6,522.3 L260.8,522.9 L261.9,522.9 L263.0,522.7 L266.2,521.0 L269.4,519.0 L270.5,518.5 L276.9,518.2 L278.0,517.9 L281.2,516.3 L284.4,513.4 L285.5,512.9 L286.6,512.9 L290.9,513.7 L291.9,513.8 L293.0,513.4 L295.2,511.9 L296.2,511.0 L299.4,507.2 L300.5,506.4 L301.6,506.1 L302.3,506.3 L304.8,507.8 L305.9,508.1 L307.5,508.0 L308.5,507.4 L309.1,506.6 L310.0,504.9 L310.7,503.2 L311.3,501.3 L312.2,496.7 L313.3,488.2 L314.0,478.1 L314.7,463.4 L315.1,444.1 L315.7,388.6 L316.1,436.5 L316.8,467.1 L317.3,478.1 L318.0,488.0 L318.8,494.2 L319.6,498.7 L320.6,502.5 L321.3,504.0 L322.0,505.3 L322.9,506.3 L323.8,506.9 L324.1,506.9 L325.2,506.2 L327.5,503.3 L328.4,502.8 L329.1,503.1 L329.5,503.8 L330.6,506.8 L332.7,514.8 L333.8,517.7 L335.9,520.8 L337.0,521.8 L338.1,522.3 L339.1,522.5 L342.4,522.9 L344.9,523.0 L344.9,533.8"/><path d="M73.8,536.3 L73.8,535.4 L77.0,534.4 L80.3,532.8 L83.5,530.6 L85.6,528.6 L93.1,520.5 L95.3,517.9 L96.3,516.1 L99.6,508.3 L100.6,506.6 L101.7,505.4 L102.8,504.7 L104.9,504.8 L105.9,504.6 L107.0,504.1 L107.9,503.3 L109.5,501.4 L110.3,499.8 L111.4,496.9 L112.4,492.0 L113.0,487.1 L113.7,478.4 L114.1,468.3 L114.7,442.3 L115.1,394.7 L115.5,434.9 L115.8,457.3 L116.4,475.1 L117.2,486.7 L117.8,491.1 L118.6,494.4 L119.5,496.6 L120.1,497.3 L120.8,497.7 L121.5,497.7 L122.4,497.4 L123.1,496.9 L124.2,495.2 L125.0,493.2 L126.0,489.2 L127.1,481.4 L127.8,471.7 L128.3,460.9 L129.0,430.4 L129.4,382.5 L130.0,438.0 L130.4,457.2 L131.1,471.8 L131.8,481.7 L132.9,489.9 L133.9,494.6 L135.0,497.6 L135.8,499.3 L136.7,500.5 L137.6,501.5 L138.7,502.3 L139.3,502.3 L140.3,501.4 L142.8,497.9 L143.5,497.3 L144.6,497.3 L145.7,499.0 L147.8,503.9 L150.0,507.3 L151.1,508.7 L153.2,510.5 L154.3,511.2 L155.3,511.7 L159.6,512.2 L160.7,512.5 L168.2,518.6 L171.4,520.1 L177.9,522.1 L180.0,523.3 L183.2,525.4 L185.4,526.5 L192.9,528.3 L198.3,530.7 L200.4,531.3 L204.7,531.8 L212.2,532.4 L216.5,533.2 L217.6,533.2 L219.7,532.9 L225.1,531.7 L232.6,531.5 L233.7,531.3 L239.0,529.1 L245.5,528.3 L248.7,527.4 L250.8,526.6 L253.0,525.3 L254.0,524.9 L255.1,524.8 L258.3,525.4 L259.4,525.4 L260.5,525.2 L263.7,523.6 L266.9,521.5 L268.0,521.0 L274.4,520.8 L275.5,520.5 L278.7,518.8 L281.9,516.0 L283.0,515.5 L284.1,515.5 L288.4,516.3 L289.4,516.3 L290.5,515.9 L292.7,514.5 L293.7,513.5 L297.0,509.7 L298.0,508.9 L299.1,508.7 L299.8,508.8 L302.3,510.4 L303.4,510.7 L305.0,510.6 L306.0,510.0 L306.6,509.2 L307.6,507.5 L308.2,505.8 L308.8,503.9 L309.8,499.3 L310.8,490.8 L311.6,480.8 L312.2,466.0 L312.7,446.8 L313.2,391.3 L313.6,439.1 L314.3,469.8 L314.8,480.7 L315.6,490.6 L316.3,496.8 L317.1,501.3 L318.2,505.1 L318.8,506.6 L319.6,507.8 L320.4,508.8 L321.4,509.4 L321.6,509.4 L322.7,508.7 L325.0,505.9 L325.9,505.4 L326.6,505.7 L327.0,506.3 L328.1,509.3 L330.2,517.3 L331.3,520.2 L333.4,523.3 L334.5,524.4 L335.6,524.9 L336.7,525.1 L339.9,525.4 L342.5,525.5 L342.5,536.3"/><path d="M71.3,538.9 L71.3,538.0 L74.5,536.9 L77.8,535.3 L81.0,533.1 L83.1,531.1 L90.6,523.1 L92.8,520.5 L93.9,518.6 L97.1,510.8 L98.1,509.2 L99.2,507.9 L100.3,507.2 L102.4,507.3 L103.4,507.2 L104.5,506.6 L105.4,505.9 L107.0,504.0 L107.8,502.4 L108.9,499.5 L110.0,494.6 L110.6,489.7 L111.2,481.0 L111.7,470.8 L112.2,444.9 L112.7,397.2 L113.0,437.5 L113.3,459.9 L113.9,477.6 L114.7,489.2 L115.3,493.6 L116.1,497.0 L117.0,499.1 L117.6,499.8 L118.3,500.2 L119.0,500.3 L119.9,500.0 L120.6,499.4 L121.8,497.7 L122.6,495.7 L123.5,491.8 L124.6,483.9 L125.3,474.2 L125.8,463.4 L126.5,432.9 L127.0,385.0 L127.5,440.5 L127.9,459.7 L128.6,474.3 L129.3,484.2 L130.4,492.4 L131.4,497.1 L132.5,500.1 L133.3,501.8 L134.2,503.0 L135.1,504.0 L136.2,504.8 L136.8,504.8 L137.8,504.0 L140.4,500.4 L141.1,499.8 L142.1,499.8 L143.2,501.5 L145.4,506.4 L147.5,509.8 L148.6,511.2 L150.7,513.1 L151.8,513.8 L152.9,514.2 L157.2,514.8 L158.2,515.1 L165.7,521.1 L169.0,522.6 L175.4,524.7 L177.5,525.8 L180.8,527.9 L182.9,529.0 L190.4,530.8 L195.8,533.2 L197.9,533.8 L202.2,534.3 L209.7,534.9 L214.0,535.7 L215.1,535.7 L217.2,535.5 L222.6,534.3 L230.1,534.1 L231.2,533.8 L236.5,531.6 L243.0,530.8 L246.2,530.0 L248.3,529.1 L250.5,527.8 L251.6,527.4 L252.6,527.4 L255.9,527.9 L256.9,528.0 L258.0,527.7 L261.2,526.1 L264.4,524.0 L265.5,523.6 L271.9,523.3 L273.0,523.0 L276.2,521.4 L279.5,518.5 L280.5,518.0 L281.6,518.0 L285.9,518.8 L287.0,518.8 L288.0,518.5 L290.2,517.0 L291.3,516.0 L294.5,512.3 L295.5,511.4 L296.6,511.2 L297.3,511.4 L299.8,512.9 L300.9,513.2 L302.5,513.1 L303.5,512.5 L304.1,511.8 L305.1,510.0 L305.7,508.4 L306.3,506.4 L307.3,501.9 L308.3,493.4 L309.1,483.4 L309.7,468.7 L310.2,449.4 L310.7,393.9 L311.1,441.8 L311.8,472.4 L312.3,483.3 L313.1,493.3 L313.8,499.4 L314.6,503.8 L315.7,507.7 L316.3,509.2 L317.1,510.4 L317.9,511.4 L318.9,512.0 L319.1,512.0 L320.2,511.3 L322.5,508.4 L323.4,507.9 L324.1,508.2 L324.5,508.9 L325.6,511.9 L327.7,519.9 L328.8,522.8 L330.9,525.8 L332.0,526.9 L333.1,527.4 L334.2,527.6 L337.4,528.0 L340.0,528.1 L340.0,538.9"/><path d="M68.8,541.4 L68.8,540.5 L72.1,539.5 L75.3,537.8 L78.5,535.6 L80.6,533.6 L88.2,525.6 L90.3,523.0 L91.4,521.2 L94.6,513.4 L95.7,511.7 L96.8,510.4 L97.8,509.7 L100.0,509.8 L100.9,509.7 L102.0,509.1 L103.0,508.4 L104.5,506.5 L105.3,504.9 L106.4,502.0 L107.5,497.1 L108.1,492.2 L108.7,483.5 L109.2,473.4 L109.8,447.4 L110.2,399.8 L110.5,440.0 L110.9,462.4 L111.4,480.1 L112.3,491.8 L112.8,496.2 L113.6,499.5 L114.6,501.6 L115.2,502.4 L115.8,502.7 L116.5,502.8 L117.4,502.5 L118.1,501.9 L119.3,500.2 L120.1,498.2 L121.0,494.3 L122.1,486.4 L122.8,476.7 L123.3,465.9 L124.0,435.3 L124.5,387.5 L125.0,443.0 L125.5,462.2 L126.1,476.8 L126.8,486.7 L127.9,495.0 L128.9,499.6 L130.0,502.6 L130.8,504.3 L131.7,505.5 L132.6,506.5 L133.7,507.3 L134.3,507.3 L135.4,506.5 L137.9,503.0 L138.6,502.3 L139.6,502.4 L140.7,504.1 L142.9,509.0 L145.0,512.4 L146.1,513.7 L148.2,515.6 L149.3,516.3 L150.4,516.7 L154.7,517.3 L155.7,517.6 L163.3,523.7 L166.5,525.1 L172.9,527.2 L175.1,528.3 L178.3,530.5 L180.4,531.6 L187.9,533.3 L193.3,535.7 L195.4,536.3 L199.7,536.9 L207.2,537.4 L211.5,538.2 L212.6,538.3 L214.7,538.0 L220.1,536.8 L227.6,536.6 L228.7,536.3 L234.1,534.1 L240.5,533.3 L243.7,532.5 L245.9,531.6 L248.0,530.4 L249.1,529.9 L250.1,529.9 L253.4,530.5 L254.4,530.5 L255.5,530.3 L258.7,528.6 L261.9,526.5 L263.0,526.1 L269.5,525.8 L270.5,525.5 L273.7,523.9 L277.0,521.0 L278.0,520.5 L279.1,520.5 L283.4,521.3 L284.5,521.4 L285.6,521.0 L287.7,519.5 L288.8,518.6 L292.0,514.8 L293.1,514.0 L294.1,513.7 L294.8,513.9 L297.4,515.5 L298.4,515.8 L300.0,515.7 L301.0,515.1 L301.6,514.3 L302.6,512.6 L303.2,510.9 L303.8,509.0 L304.8,504.5 L305.9,496.0 L306.6,486.0 L307.2,471.3 L307.7,452.1 L308.2,396.6 L308.6,444.4 L309.3,475.1 L309.8,486.0 L310.6,495.9 L311.3,502.0 L312.1,506.4 L313.2,510.2 L313.8,511.7 L314.6,513.0 L315.4,514.0 L316.4,514.5 L316.7,514.5 L317.7,513.8 L320.1,510.9 L321.0,510.4 L321.6,510.7 L322.0,511.4 L323.1,514.4 L325.2,522.4 L326.3,525.3 L328.5,528.4 L329.5,529.5 L330.6,530.0 L331.7,530.1 L334.9,530.5 L337.5,530.6 L337.5,541.4"/><path d="M66.4,543.9 L66.4,543.0 L69.6,542.0 L72.8,540.4 L76.0,538.2 L78.2,536.2 L85.7,528.1 L87.8,525.5 L88.9,523.7 L92.1,515.9 L93.2,514.2 L94.3,513.0 L95.3,512.3 L97.5,512.4 L98.4,512.2 L99.5,511.6 L100.5,510.9 L102.1,509.0 L102.8,507.4 L103.9,504.5 L105.0,499.6 L105.6,494.7 L106.2,486.0 L106.7,475.9 L107.3,449.9 L107.7,402.3 L108.0,442.5 L108.4,464.9 L109.0,482.6 L109.8,494.3 L110.4,498.7 L111.1,502.0 L112.1,504.2 L112.7,504.9 L113.3,505.2 L114.1,505.3 L114.9,505.0 L115.6,504.4 L116.8,502.7 L117.6,500.7 L118.6,496.8 L119.6,488.9 L120.4,479.2 L120.9,468.4 L121.6,437.8 L122.0,390.0 L122.5,445.5 L123.0,464.7 L123.6,479.3 L124.3,489.2 L125.4,497.5 L126.4,502.1 L127.5,505.2 L128.4,506.8 L129.2,508.0 L130.1,509.0 L131.2,509.8 L131.8,509.8 L132.9,509.0 L135.4,505.5 L136.1,504.9 L137.2,504.9 L138.2,506.6 L140.4,511.5 L142.5,514.9 L143.6,516.3 L145.7,518.1 L146.8,518.8 L147.9,519.2 L152.2,519.8 L153.3,520.1 L160.8,526.2 L164.0,527.6 L170.4,529.7 L172.6,530.9 L175.8,533.0 L177.9,534.1 L185.4,535.8 L190.8,538.3 L193.0,538.9 L197.2,539.4 L204.8,540.0 L209.0,540.8 L210.1,540.8 L212.3,540.5 L217.6,539.3 L225.1,539.1 L226.2,538.9 L231.6,536.7 L238.0,535.9 L241.2,535.0 L243.4,534.2 L245.5,532.9 L246.6,532.5 L247.7,532.4 L250.9,533.0 L252.0,533.0 L253.0,532.8 L256.2,531.2 L259.5,529.1 L260.5,528.6 L267.0,528.4 L268.0,528.1 L271.3,526.4 L274.5,523.6 L275.6,523.1 L276.6,523.1 L280.9,523.9 L282.0,523.9 L283.1,523.5 L285.2,522.1 L286.3,521.1 L289.5,517.3 L290.6,516.5 L291.6,516.3 L292.3,516.4 L294.9,518.0 L295.9,518.3 L297.6,518.2 L298.5,517.7 L299.2,516.9 L300.1,515.2 L300.8,513.5 L301.3,511.6 L302.3,507.1 L303.4,498.6 L304.1,488.7 L304.7,473.9 L305.2,454.7 L305.7,399.2 L306.1,447.1 L306.9,477.7 L307.4,488.6 L308.1,498.5 L308.8,504.6 L309.6,509.0 L310.7,512.8 L311.4,514.3 L312.1,515.5 L312.9,516.5 L313.9,517.1 L314.2,517.1 L315.2,516.4 L317.6,513.5 L318.5,513.0 L319.1,513.3 L319.5,513.9 L320.6,516.9 L322.8,524.9 L323.8,527.8 L326.0,530.9 L327.1,532.0 L328.1,532.5 L329.2,532.7 L332.4,533.0 L335.0,533.1 L335.0,543.9"/><path d="M63.9,546.4 L63.9,545.6 L67.1,544.5 L70.3,542.9 L73.5,540.7 L75.7,538.7 L83.2,530.6 L85.3,528.1 L86.4,526.2 L89.6,518.4 L90.7,516.8 L91.8,515.5 L92.8,514.8 L95.0,514.9 L96.0,514.7 L97.0,514.2 L98.0,513.4 L99.6,511.5 L100.4,509.9 L101.4,507.1 L102.5,502.2 L103.1,497.3 L103.8,488.6 L104.2,478.4 L104.8,452.5 L105.2,404.8 L105.5,445.1 L105.9,467.5 L106.5,485.2 L107.3,496.8 L107.9,501.2 L108.6,504.5 L109.6,506.7 L110.3,507.4 L110.8,507.7 L111.6,507.8 L112.4,507.5 L113.1,507.0 L114.3,505.2 L115.1,503.2 L116.1,499.3 L117.1,491.4 L117.9,481.7 L118.4,470.9 L119.1,440.3 L119.5,392.5 L120.0,448.0 L120.5,467.1 L121.1,481.8 L121.9,491.7 L122.9,500.0 L124.0,504.6 L125.0,507.7 L125.9,509.3 L126.7,510.6 L127.7,511.6 L128.7,512.3 L129.3,512.4 L130.4,511.5 L132.9,508.0 L133.6,507.4 L134.7,507.4 L135.8,509.1 L137.9,514.0 L140.0,517.4 L141.1,518.8 L143.3,520.7 L144.3,521.3 L145.4,521.8 L149.7,522.3 L150.8,522.6 L158.3,528.7 L161.5,530.2 L167.9,532.3 L170.1,533.4 L173.3,535.5 L175.4,536.6 L183.0,538.4 L188.3,540.8 L190.5,541.4 L194.8,541.9 L202.3,542.5 L206.6,543.3 L207.6,543.3 L209.8,543.1 L215.1,541.8 L222.6,541.7 L223.7,541.4 L229.1,539.2 L235.5,538.4 L238.7,537.6 L240.9,536.7 L243.0,535.4 L244.1,535.0 L245.2,535.0 L248.4,535.5 L249.5,535.6 L250.5,535.3 L253.8,533.7 L257.0,531.6 L258.1,531.2 L264.5,530.9 L265.6,530.6 L268.8,529.0 L272.0,526.1 L273.1,525.6 L274.1,525.6 L278.4,526.4 L279.5,526.4 L280.6,526.1 L282.7,524.6 L283.8,523.7 L287.0,519.9 L288.1,519.0 L289.2,518.8 L289.8,519.0 L292.4,520.6 L293.5,520.9 L295.1,520.8 L296.0,520.2 L296.7,519.5 L297.6,517.8 L298.3,516.1 L298.9,514.2 L299.8,509.7 L300.9,501.3 L301.6,491.3 L302.3,476.6 L302.7,457.4 L303.2,401.9 L303.7,449.7 L304.4,480.3 L304.9,491.2 L305.6,501.1 L306.3,507.2 L307.1,511.6 L308.2,515.4 L308.9,516.9 L309.6,518.1 L310.5,519.1 L311.4,519.7 L311.7,519.6 L312.8,518.9 L315.1,516.0 L316.0,515.5 L316.7,515.8 L317.1,516.5 L318.1,519.5 L320.3,527.5 L321.3,530.4 L323.5,533.5 L324.6,534.5 L325.6,535.0 L326.7,535.2 L329.9,535.6 L332.5,535.7 L332.5,546.4"/><path d="M61.4,549.0 L61.4,548.1 L64.6,547.0 L67.8,545.4 L71.0,543.2 L73.2,541.2 L80.7,533.2 L82.8,530.6 L83.9,528.7 L87.1,520.9 L88.2,519.3 L89.3,518.0 L90.4,517.3 L92.5,517.4 L93.5,517.3 L94.5,516.7 L95.5,516.0 L97.1,514.1 L97.9,512.5 L98.9,509.6 L100.0,504.7 L100.6,499.8 L101.3,491.1 L101.7,481.0 L102.3,455.0 L102.7,407.4 L103.0,447.6 L103.4,470.0 L104.0,487.7 L104.8,499.3 L105.4,503.8 L106.1,507.1 L107.1,509.2 L107.8,510.0 L108.3,510.3 L109.1,510.4 L109.9,510.1 L110.6,509.5 L111.8,507.8 L112.6,505.7 L113.6,501.8 L114.6,493.9 L115.4,484.2 L115.9,473.4 L116.6,442.8 L117.0,395.0 L117.5,450.5 L118.0,469.6 L118.6,484.3 L119.4,494.2 L120.4,502.5 L121.5,507.1 L122.5,510.2 L123.4,511.9 L124.2,513.1 L125.2,514.1 L126.3,514.9 L126.8,514.9 L127.9,514.1 L130.4,510.6 L131.1,509.9 L132.2,510.0 L133.3,511.6 L135.4,516.5 L137.6,520.0 L138.6,521.3 L140.8,523.2 L141.8,523.9 L142.9,524.3 L147.2,524.9 L148.3,525.2 L155.8,531.2 L159.0,532.7 L165.5,534.8 L167.6,535.9 L170.8,538.1 L173.0,539.2 L180.5,540.9 L185.8,543.3 L188.0,543.9 L192.3,544.5 L199.8,545.0 L204.1,545.8 L205.1,545.9 L207.3,545.6 L212.7,544.4 L220.2,544.2 L221.2,543.9 L226.6,541.7 L233.0,540.9 L236.3,540.1 L238.4,539.2 L240.5,537.9 L241.6,537.5 L242.7,537.5 L245.9,538.1 L247.0,538.1 L248.1,537.8 L251.3,536.2 L254.5,534.1 L255.6,533.7 L262.0,533.4 L263.1,533.1 L266.3,531.5 L269.5,528.6 L270.6,528.1 L271.7,528.1 L275.9,528.9 L277.0,529.0 L278.1,528.6 L280.2,527.1 L281.3,526.2 L284.5,522.4 L285.6,521.6 L286.7,521.3 L287.4,521.5 L289.9,523.1 L291.0,523.4 L292.6,523.3 L293.5,522.8 L294.2,522.0 L295.1,520.3 L295.8,518.7 L296.4,516.8 L297.3,512.3 L298.4,503.9 L299.1,493.9 L299.8,479.2 L300.2,460.0 L300.8,404.5 L301.2,452.4 L301.9,483.0 L302.4,493.9 L303.1,503.7 L303.8,509.8 L304.6,514.2 L305.7,518.0 L306.4,519.4 L307.1,520.7 L308.0,521.6 L308.9,522.2 L309.2,522.2 L310.3,521.4 L312.6,518.5 L313.5,518.0 L314.2,518.4 L314.6,519.0 L315.6,522.0 L317.8,530.0 L318.9,532.9 L321.0,536.0 L322.1,537.1 L323.2,537.6 L324.2,537.8 L327.4,538.1 L330.0,538.2 L330.0,549.0"/><path d="M58.9,551.5 L58.9,550.6 L62.1,549.6 L65.3,548.0 L68.6,545.8 L70.7,543.8 L78.2,535.7 L80.4,533.1 L81.4,531.3 L84.7,523.5 L85.7,521.8 L86.8,520.6 L87.9,519.8 L90.0,520.0 L91.0,519.8 L92.1,519.2 L93.0,518.5 L94.6,516.6 L95.4,515.0 L96.5,512.1 L97.5,507.2 L98.1,502.3 L98.8,493.6 L99.2,483.5 L99.8,457.5 L100.2,409.9 L100.6,450.1 L100.9,472.5 L101.5,490.2 L102.3,501.9 L102.9,506.3 L103.7,509.6 L104.6,511.7 L105.3,512.5 L105.9,512.8 L106.6,512.9 L107.4,512.6 L108.2,512.0 L109.3,510.3 L110.1,508.2 L111.1,504.3 L112.2,496.4 L112.9,486.7 L113.4,475.9 L114.1,445.3 L114.5,397.5 L115.1,452.9 L115.5,472.1 L116.2,486.8 L116.9,496.7 L118.0,505.0 L119.0,509.6 L120.1,512.7 L120.9,514.4 L121.7,515.6 L122.7,516.6 L123.8,517.4 L124.3,517.4 L125.4,516.6 L127.9,513.1 L128.6,512.5 L129.7,512.5 L130.8,514.2 L132.9,519.1 L135.1,522.5 L136.1,523.9 L138.3,525.7 L139.4,526.4 L140.4,526.8 L144.7,527.4 L145.8,527.7 L153.3,533.8 L156.5,535.2 L163.0,537.3 L165.1,538.4 L168.3,540.6 L170.5,541.7 L178.0,543.4 L183.3,545.8 L185.5,546.4 L189.8,547.0 L197.3,547.6 L201.6,548.4 L202.7,548.4 L204.8,548.1 L210.2,546.9 L217.7,546.7 L218.8,546.4 L224.1,544.3 L230.6,543.5 L233.8,542.6 L235.9,541.8 L238.1,540.5 L239.1,540.1 L240.2,540.0 L243.4,540.6 L244.5,540.6 L245.6,540.4 L248.8,538.8 L252.0,536.7 L253.1,536.2 L259.5,535.9 L260.6,535.7 L263.8,534.0 L267.0,531.2 L268.1,530.7 L269.2,530.7 L273.5,531.5 L274.5,531.5 L275.6,531.1 L277.8,529.7 L278.8,528.7 L282.0,524.9 L283.1,524.1 L284.2,523.9 L284.9,524.1 L287.4,525.6 L288.5,526.0 L290.1,525.9 L291.1,525.3 L291.7,524.6 L292.6,522.9 L293.3,521.3 L293.9,519.4 L294.8,514.9 L295.9,506.5 L296.6,496.6 L297.3,481.9 L297.7,462.7 L298.3,407.2 L298.7,455.0 L299.4,485.6 L299.9,496.5 L300.6,506.4 L301.4,512.4 L302.2,516.8 L303.3,520.5 L303.9,522.0 L304.6,523.2 L305.5,524.2 L306.4,524.8 L307.5,524.3 L310.1,521.1 L311.0,520.6 L311.7,520.9 L312.1,521.5 L313.2,524.5 L315.3,532.6 L316.4,535.5 L318.5,538.5 L319.6,539.6 L320.7,540.1 L321.7,540.3 L325.0,540.7 L327.6,540.8 L327.6,551.5"/><path d="M56.4,554.0 L56.4,553.1 L59.6,552.1 L62.9,550.5 L66.1,548.3 L68.2,546.3 L75.7,538.2 L77.9,535.6 L78.9,533.8 L82.2,526.0 L83.2,524.3 L84.3,523.1 L85.4,522.4 L87.5,522.5 L88.5,522.3 L89.6,521.8 L90.5,521.0 L92.1,519.1 L92.9,517.5 L94.0,514.6 L95.0,509.8 L95.7,504.8 L96.3,496.1 L96.8,486.0 L97.3,460.0 L97.7,412.4 L98.1,452.6 L98.4,475.0 L99.0,492.8 L99.8,504.4 L100.4,508.8 L101.2,512.1 L102.1,514.3 L102.8,515.0 L103.4,515.3 L104.1,515.4 L105.0,515.1 L105.7,514.5 L106.8,512.8 L107.6,510.8 L108.6,506.8 L109.7,498.9 L110.4,489.2 L110.9,478.3 L111.6,447.8 L112.0,400.0 L112.6,455.4 L113.0,474.6 L113.7,489.3 L114.4,499.2 L115.5,507.5 L116.5,512.1 L117.6,515.2 L118.4,516.9 L119.3,518.1 L120.2,519.1 L121.3,519.9 L121.9,519.9 L122.9,519.1 L125.5,515.6 L126.2,515.0 L127.2,515.0 L128.3,516.7 L130.4,521.6 L132.6,525.0 L133.7,526.4 L135.8,528.2 L136.9,528.9 L138.0,529.4 L142.2,529.9 L143.3,530.2 L150.8,536.3 L154.0,537.8 L160.5,539.8 L162.6,541.0 L165.8,543.1 L168.0,544.2 L175.5,546.0 L180.9,548.4 L183.0,549.0 L187.3,549.5 L194.8,550.1 L199.1,550.9 L200.2,550.9 L202.3,550.7 L207.7,549.4 L215.2,549.3 L216.3,549.0 L221.6,546.8 L228.1,546.0 L231.3,545.1 L233.4,544.3 L235.6,543.0 L236.7,542.6 L237.7,542.6 L240.9,543.1 L242.0,543.2 L243.1,542.9 L246.3,541.3 L249.5,539.2 L250.6,538.8 L257.0,538.5 L258.1,538.2 L261.3,536.6 L264.5,533.7 L265.6,533.2 L266.7,533.2 L271.0,534.0 L272.1,534.0 L273.1,533.7 L275.3,532.2 L276.3,531.3 L279.6,527.5 L280.6,526.7 L281.7,526.4 L282.4,526.6 L284.9,528.2 L286.0,528.5 L287.6,528.4 L288.6,527.9 L289.2,527.2 L290.2,525.5 L290.8,523.8 L291.4,522.0 L292.4,517.5 L293.4,509.1 L294.2,499.2 L294.8,484.5 L295.3,465.3 L295.8,409.8 L296.2,457.6 L296.9,488.2 L297.4,499.1 L298.2,509.0 L298.9,515.0 L299.7,519.4 L300.8,523.1 L301.4,524.6 L302.2,525.8 L303.0,526.7 L304.0,527.3 L305.0,526.8 L307.6,523.6 L308.5,523.1 L309.2,523.4 L309.6,524.1 L310.7,527.1 L312.8,535.1 L313.9,538.0 L316.0,541.1 L317.1,542.1 L318.2,542.6 L319.3,542.8 L322.5,543.2 L325.1,543.3 L325.1,554.0"/><path d="M53.9,556.6 L53.9,555.7 L57.2,554.6 L60.4,553.0 L63.6,550.8 L65.7,548.8 L73.2,540.8 L75.4,538.2 L76.5,536.3 L79.7,528.5 L80.8,526.9 L81.8,525.6 L82.9,524.9 L85.0,525.0 L86.0,524.9 L87.1,524.3 L88.0,523.6 L89.6,521.7 L90.4,520.1 L91.5,517.2 L92.6,512.3 L93.2,507.4 L93.8,498.7 L94.3,488.5 L94.8,462.6 L95.3,414.9 L95.6,455.2 L95.9,477.6 L96.5,495.3 L97.3,506.9 L97.9,511.3 L98.7,514.6 L99.7,516.8 L100.3,517.5 L100.9,517.8 L101.6,517.9 L102.5,517.6 L103.2,517.0 L104.4,515.3 L105.2,513.3 L106.1,509.3 L107.2,501.4 L107.9,491.7 L108.4,480.8 L109.1,450.3 L109.6,402.4 L110.2,461.8 L110.7,480.9 L111.4,495.2 L111.9,501.7 L112.6,507.4 L113.4,512.3 L114.0,514.4 L115.1,517.7 L115.9,519.4 L117.2,521.2 L118.3,522.1 L118.8,522.4 L119.4,522.4 L120.0,522.1 L123.0,518.1 L123.7,517.5 L124.7,517.5 L125.8,519.2 L128.0,524.1 L130.1,527.5 L131.2,528.9 L132.2,529.9 L134.4,531.5 L135.5,531.9 L139.8,532.5 L140.8,532.8 L147.3,538.1 L149.4,539.4 L152.6,540.7 L158.0,542.4 L160.1,543.5 L163.4,545.6 L165.5,546.7 L173.0,548.5 L179.5,551.3 L183.7,551.9 L192.3,552.6 L196.6,553.4 L197.7,553.5 L199.8,553.2 L205.2,552.0 L212.7,551.8 L213.8,551.5 L219.1,549.3 L225.6,548.5 L228.8,547.7 L230.9,546.8 L233.1,545.5 L234.2,545.1 L235.2,545.1 L238.5,545.6 L239.5,545.7 L240.6,545.4 L243.8,543.8 L247.0,541.7 L248.1,541.3 L254.5,541.0 L255.6,540.7 L258.8,539.1 L262.1,536.2 L263.1,535.7 L264.2,535.7 L268.5,536.5 L269.6,536.6 L270.6,536.2 L272.8,534.7 L273.9,533.8 L277.1,530.0 L278.2,529.2 L279.2,529.0 L279.9,529.1 L282.4,530.7 L283.5,531.1 L284.6,531.1 L285.7,530.8 L286.7,529.7 L287.8,527.8 L288.9,524.7 L289.4,522.4 L290.6,514.7 L291.5,505.3 L292.2,490.9 L292.7,471.8 L293.3,412.5 L293.7,460.3 L294.4,490.9 L294.9,501.8 L295.7,511.6 L296.4,517.6 L297.2,522.0 L298.3,525.7 L298.9,527.2 L299.7,528.4 L300.5,529.3 L301.5,529.9 L302.6,529.4 L305.2,526.2 L306.0,525.7 L306.7,526.0 L307.1,526.6 L308.2,529.6 L310.3,537.6 L311.4,540.5 L313.6,543.6 L314.6,544.7 L315.7,545.2 L316.8,545.4 L320.0,545.7 L322.6,545.8 L322.6,556.6"/><path d="M51.5,559.1 L51.5,558.2 L54.7,557.2 L57.9,555.5 L61.1,553.3 L63.3,551.3 L70.8,543.3 L72.9,540.7 L74.0,538.9 L77.2,531.1 L78.3,529.4 L79.4,528.1 L80.4,527.4 L82.6,527.5 L83.5,527.4 L84.6,526.8 L85.6,526.1 L87.1,524.2 L87.9,522.6 L89.0,519.7 L90.1,514.8 L90.7,509.9 L91.3,501.2 L91.8,491.1 L92.4,465.1 L92.8,417.5 L93.1,457.7 L93.5,480.1 L94.0,497.8 L94.9,509.5 L95.5,513.9 L96.2,517.2 L97.2,519.3 L97.8,520.1 L98.4,520.4 L99.1,520.4 L100.0,520.1 L100.7,519.6 L101.9,517.8 L102.7,515.8 L103.6,511.8 L104.7,503.9 L105.4,494.1 L105.9,483.3 L106.7,452.8 L107.1,404.9 L107.7,464.3 L108.2,483.4 L108.9,497.7 L109.4,504.1 L110.1,509.9 L111.0,514.8 L111.5,516.9 L112.6,520.3 L113.4,521.9 L114.7,523.7 L115.8,524.7 L116.3,525.0 L116.9,525.0 L117.5,524.6 L120.5,520.7 L121.2,520.0 L122.3,520.1 L123.3,521.7 L125.5,526.7 L127.6,530.1 L128.7,531.4 L129.8,532.4 L131.9,534.0 L133.0,534.4 L137.3,535.0 L138.3,535.3 L144.8,540.6 L146.9,541.9 L150.1,543.2 L155.5,544.9 L157.7,546.0 L160.9,548.2 L163.0,549.3 L170.5,551.0 L177.0,553.8 L181.3,554.5 L189.8,555.1 L194.1,555.9 L195.2,556.0 L197.4,555.7 L202.7,554.5 L210.2,554.3 L211.3,554.0 L216.7,551.9 L223.1,551.1 L226.3,550.2 L228.5,549.4 L230.6,548.1 L231.7,547.7 L232.8,547.6 L236.0,548.2 L237.0,548.2 L238.1,548.0 L241.3,546.3 L244.6,544.3 L245.6,543.8 L252.1,543.5 L253.1,543.3 L256.4,541.6 L259.6,538.8 L260.6,538.3 L261.7,538.3 L266.0,539.1 L267.1,539.1 L268.2,538.7 L270.3,537.3 L271.4,536.3 L274.6,532.5 L275.7,531.7 L276.7,531.5 L277.4,531.7 L280.0,533.3 L281.0,533.6 L282.1,533.6 L283.2,533.3 L284.2,532.3 L285.3,530.3 L286.4,527.3 L286.9,525.0 L288.1,517.3 L289.0,507.9 L289.7,493.5 L290.2,474.4 L290.8,415.1 L291.2,462.9 L291.9,493.5 L292.5,504.4 L293.2,514.2 L293.9,520.2 L294.7,524.6 L295.8,528.3 L296.5,529.7 L297.2,530.9 L298.0,531.9 L299.0,532.4 L300.1,531.9 L302.7,528.7 L303.6,528.2 L304.2,528.5 L304.6,529.1 L305.7,532.2 L307.8,540.2 L308.9,543.1 L311.1,546.2 L312.1,547.2 L313.2,547.7 L314.3,547.9 L317.5,548.3 L320.1,548.4 L320.1,559.1"/><path d="M49.0,561.6 L49.0,560.7 L52.2,559.7 L55.4,558.1 L58.6,555.9 L60.8,553.9 L68.3,545.8 L70.4,543.2 L71.5,541.4 L74.7,533.6 L75.8,531.9 L76.9,530.7 L77.9,530.0 L80.1,530.1 L81.0,529.9 L82.1,529.3 L83.1,528.6 L84.7,526.7 L85.4,525.1 L86.5,522.2 L87.6,517.3 L88.2,512.4 L88.8,503.7 L89.3,493.6 L89.9,467.6 L90.3,420.0 L90.6,460.2 L91.0,482.6 L91.6,500.4 L92.4,512.0 L93.0,516.4 L93.7,519.7 L94.7,521.9 L95.3,522.6 L95.9,522.9 L96.7,523.0 L97.5,522.7 L98.2,522.1 L99.4,520.3 L100.2,518.3 L101.2,514.3 L102.2,506.4 L103.0,496.6 L103.5,485.8 L104.2,455.3 L104.6,407.4 L105.2,466.7 L105.7,485.9 L106.4,500.2 L107.0,506.6 L107.6,512.4 L108.5,517.3 L109.0,519.5 L110.1,522.8 L111.0,524.4 L112.3,526.2 L113.3,527.2 L113.8,527.5 L114.4,527.5 L115.1,527.1 L118.0,523.2 L118.7,522.6 L119.8,522.6 L120.8,524.3 L123.0,529.2 L125.1,532.6 L126.2,534.0 L127.3,535.0 L129.4,536.5 L130.5,536.9 L134.8,537.5 L135.9,537.8 L142.3,543.1 L144.4,544.5 L147.7,545.7 L153.0,547.4 L155.2,548.6 L158.4,550.7 L160.5,551.8 L168.0,553.6 L174.5,556.3 L178.8,557.0 L187.4,557.7 L191.6,558.5 L192.7,558.5 L194.9,558.2 L200.2,557.0 L207.7,556.8 L208.8,556.6 L214.2,554.4 L220.6,553.6 L223.8,552.7 L226.0,551.9 L228.1,550.6 L229.2,550.2 L230.3,550.1 L233.5,550.7 L234.6,550.8 L235.6,550.5 L238.9,548.9 L242.1,546.8 L243.1,546.4 L249.6,546.1 L250.7,545.8 L253.9,544.2 L257.1,541.3 L258.2,540.8 L259.2,540.8 L263.5,541.6 L264.6,541.6 L265.7,541.3 L267.8,539.8 L268.9,538.9 L272.1,535.1 L273.2,534.3 L274.3,534.0 L274.9,534.2 L277.5,535.8 L278.5,536.2 L279.6,536.2 L280.7,535.9 L281.8,534.8 L282.8,532.9 L283.9,529.8 L284.5,527.6 L285.7,520.0 L286.5,510.5 L287.2,496.2 L287.7,477.1 L288.3,417.7 L288.8,465.6 L289.5,496.2 L290.0,507.0 L290.7,516.8 L291.4,522.8 L292.2,527.2 L293.3,530.8 L294.0,532.3 L294.7,533.5 L295.6,534.4 L296.5,535.0 L297.6,534.4 L300.2,531.2 L301.1,530.7 L301.7,531.0 L302.1,531.7 L303.2,534.7 L305.4,542.7 L306.4,545.6 L308.6,548.7 L309.7,549.8 L310.7,550.3 L311.8,550.4 L315.0,550.8 L317.6,550.9 L317.6,561.6"/><path d="M46.5,564.2 L46.5,563.3 L49.7,562.2 L52.9,560.6 L56.1,558.4 L58.3,556.4 L65.8,548.3 L67.9,545.8 L69.0,543.9 L72.2,536.1 L73.3,534.5 L74.4,533.2 L75.4,532.5 L77.6,532.6 L78.6,532.4 L79.6,531.9 L80.6,531.1 L82.2,529.2 L83.0,527.6 L84.0,524.8 L85.1,519.9 L85.7,515.0 L86.4,506.3 L86.8,496.1 L87.4,470.2 L87.8,422.5 L88.1,462.8 L88.5,485.2 L89.1,502.9 L89.9,514.5 L90.5,518.9 L91.2,522.2 L92.2,524.4 L92.9,525.1 L93.4,525.4 L94.2,525.5 L95.0,525.2 L95.7,524.6 L96.9,522.8 L97.7,520.8 L98.7,516.8 L99.7,508.9 L100.5,499.1 L101.0,488.3 L101.7,457.7 L102.1,409.9 L102.7,469.2 L103.2,488.3 L103.9,502.7 L104.5,509.1 L105.1,514.9 L106.0,519.8 L106.5,522.0 L107.6,525.3 L108.5,527.0 L109.8,528.7 L110.8,529.7 L111.3,530.0 L111.9,530.0 L112.6,529.6 L115.5,525.7 L116.2,525.1 L117.3,525.1 L118.4,526.8 L120.5,531.7 L122.6,535.1 L123.7,536.5 L124.8,537.5 L126.9,539.0 L128.0,539.5 L132.3,540.0 L133.4,540.3 L139.8,545.7 L142.0,547.0 L145.2,548.3 L150.5,550.0 L152.7,551.1 L155.9,553.2 L158.1,554.3 L165.6,556.1 L172.0,558.9 L176.3,559.5 L184.9,560.2 L189.2,561.0 L190.2,561.0 L192.4,560.8 L197.7,559.6 L205.3,559.4 L206.3,559.1 L211.7,556.9 L218.1,556.1 L221.3,555.3 L223.5,554.4 L225.6,553.1 L226.7,552.7 L227.8,552.7 L231.0,553.2 L232.1,553.3 L233.1,553.0 L236.4,551.4 L239.6,549.3 L240.7,548.9 L247.1,548.6 L248.2,548.3 L251.4,546.7 L254.6,543.8 L255.7,543.3 L256.7,543.3 L261.0,544.1 L262.1,544.2 L263.2,543.8 L265.3,542.3 L266.4,541.4 L269.6,537.6 L270.7,536.8 L271.8,536.6 L272.4,536.8 L275.0,538.4 L276.1,538.7 L277.1,538.7 L278.2,538.4 L279.3,537.4 L280.4,535.5 L281.4,532.4 L282.0,530.2 L283.2,522.6 L284.0,513.1 L284.7,498.8 L285.2,479.7 L285.9,420.4 L286.3,468.2 L287.0,498.8 L287.5,509.6 L288.2,519.4 L288.9,525.4 L289.7,529.8 L290.8,533.4 L291.5,534.9 L292.2,536.0 L293.1,537.0 L294.0,537.5 L295.1,537.0 L297.7,533.8 L298.6,533.3 L299.3,533.6 L299.7,534.2 L300.7,537.2 L302.9,545.2 L304.0,548.2 L306.1,551.2 L307.2,552.3 L308.2,552.8 L309.3,553.0 L312.5,553.3 L315.1,553.4 L315.1,564.2"/><path d="M44.0,566.7 L44.0,565.8 L47.2,564.7 L50.4,563.1 L53.7,560.9 L55.8,558.9 L63.3,550.9 L65.5,548.3 L66.5,546.4 L69.7,538.7 L70.8,537.0 L71.9,535.7 L73.0,535.0 L75.1,535.1 L76.1,535.0 L77.2,534.4 L78.1,533.7 L79.7,531.8 L80.5,530.2 L81.5,527.3 L82.6,522.4 L83.2,517.5 L83.9,508.8 L84.3,498.7 L84.9,472.7 L85.3,425.1 L85.6,465.3 L86.0,487.7 L86.6,505.4 L87.4,517.0 L88.0,521.5 L88.7,524.7 L89.7,526.9 L90.4,527.6 L90.9,527.9 L91.7,528.0 L92.5,527.7 L93.2,527.1 L94.4,525.4 L95.2,523.3 L96.2,519.3 L97.3,511.4 L98.0,501.6 L98.5,490.8 L99.2,460.2 L99.6,412.4 L100.2,471.7 L100.7,490.8 L101.5,505.2 L102.0,511.6 L102.6,517.4 L104.0,524.5 L105.1,527.8 L106.0,529.5 L107.3,531.2 L108.4,532.2 L108.9,532.5 L109.4,532.5 L110.1,532.2 L113.0,528.2 L113.7,527.6 L114.8,527.7 L115.9,529.3 L118.0,534.2 L120.2,537.7 L121.2,539.0 L122.3,540.0 L124.5,541.6 L125.5,542.0 L129.8,542.6 L130.9,542.9 L137.3,548.2 L139.5,549.5 L142.7,550.8 L148.1,552.5 L150.2,553.6 L153.4,555.8 L155.6,556.9 L163.1,558.6 L169.5,561.4 L173.8,562.1 L182.4,562.7 L186.7,563.5 L187.8,563.6 L189.9,563.3 L195.3,562.1 L202.8,561.9 L203.8,561.6 L209.2,559.5 L215.6,558.6 L218.9,557.8 L221.0,557.0 L223.2,555.7 L224.2,555.2 L225.3,555.2 L228.5,555.8 L229.6,555.8 L230.7,555.6 L233.9,553.9 L237.1,551.9 L238.2,551.4 L244.6,551.1 L245.7,550.9 L248.9,549.2 L252.1,546.4 L253.2,545.9 L254.3,545.8 L258.6,546.7 L259.6,546.7 L260.7,546.3 L262.8,544.9 L263.9,543.9 L267.1,540.2 L268.2,539.3 L269.3,539.1 L270.0,539.3 L272.5,540.9 L273.6,541.3 L274.6,541.3 L275.7,541.0 L276.8,540.0 L277.9,538.0 L278.9,535.0 L279.5,532.8 L280.7,525.2 L281.5,515.8 L282.2,501.5 L282.8,482.4 L283.4,423.0 L283.8,470.9 L284.5,501.4 L285.0,512.3 L285.7,522.1 L286.4,528.0 L287.2,532.4 L288.3,536.0 L289.0,537.4 L289.7,538.6 L290.6,539.5 L291.5,540.1 L292.6,539.5 L295.2,536.3 L296.1,535.8 L296.8,536.1 L297.2,536.8 L298.2,539.8 L300.4,547.8 L301.5,550.7 L303.6,553.8 L304.7,554.8 L305.8,555.3 L306.8,555.5 L310.0,555.9 L312.6,556.0 L312.6,566.7"/><path d="M41.5,569.2 L41.5,568.3 L44.7,567.3 L47.9,565.7 L51.2,563.5 L53.3,561.5 L60.8,553.4 L63.0,550.8 L64.0,549.0 L67.3,541.2 L68.3,539.5 L69.4,538.3 L70.5,537.5 L72.6,537.7 L73.6,537.5 L74.7,536.9 L75.6,536.2 L77.2,534.3 L78.0,532.7 L79.1,529.8 L80.1,524.9 L80.7,520.0 L81.4,511.3 L81.8,501.2 L82.4,475.2 L82.8,427.6 L83.2,467.8 L83.5,490.2 L84.1,507.9 L84.9,519.6 L85.5,524.0 L86.3,527.3 L87.2,529.4 L87.9,530.1 L88.5,530.5 L89.2,530.5 L90.0,530.2 L90.8,529.6 L91.9,527.9 L92.7,525.8 L93.7,521.8 L94.8,513.9 L95.5,504.1 L96.0,493.3 L96.7,462.7 L97.1,414.9 L97.7,474.2 L98.3,493.3 L99.0,507.7 L99.5,514.1 L100.2,519.9 L101.5,527.0 L102.7,530.3 L103.5,532.0 L104.8,533.8 L105.9,534.7 L106.4,535.0 L107.0,535.1 L107.6,534.7 L110.5,530.8 L111.2,530.1 L112.3,530.2 L113.4,531.9 L115.5,536.8 L117.7,540.2 L118.8,541.6 L119.8,542.5 L122.0,544.1 L123.0,544.5 L127.3,545.1 L128.4,545.4 L134.8,550.7 L137.0,552.0 L140.2,553.3 L145.6,555.0 L147.7,556.2 L150.9,558.3 L153.1,559.4 L160.6,561.1 L167.0,563.9 L171.3,564.6 L179.9,565.3 L184.2,566.1 L185.3,566.1 L187.4,565.8 L192.8,564.6 L200.3,564.4 L201.4,564.2 L206.7,562.0 L213.2,561.2 L216.4,560.3 L218.5,559.5 L220.7,558.2 L221.7,557.8 L222.8,557.7 L226.0,558.3 L227.1,558.4 L228.2,558.1 L231.4,556.5 L234.6,554.4 L235.7,554.0 L242.1,553.7 L243.2,553.4 L246.4,551.8 L249.6,548.9 L250.7,548.4 L251.8,548.4 L256.1,549.2 L257.1,549.2 L258.2,548.9 L260.4,547.4 L261.4,546.5 L264.7,542.7 L265.7,541.9 L266.8,541.6 L267.5,541.8 L270.0,543.4 L271.1,543.8 L272.2,543.8 L273.2,543.5 L274.3,542.5 L275.4,540.6 L276.5,537.6 L277.0,535.4 L278.2,527.8 L279.0,518.4 L279.8,504.1 L280.3,485.0 L280.9,425.7 L281.3,473.5 L282.0,504.1 L282.5,514.9 L283.2,524.7 L283.9,530.3 L284.8,534.9 L285.9,538.6 L286.5,540.0 L287.3,541.2 L288.1,542.1 L289.0,542.6 L290.1,542.1 L292.7,538.9 L293.6,538.3 L294.3,538.7 L294.7,539.3 L295.8,542.3 L297.9,550.3 L299.0,553.2 L301.1,556.3 L302.2,557.4 L303.3,557.9 L304.3,558.0 L307.6,558.4 L310.2,558.5 L310.2,569.2"/><path d="M39.0,571.8 L39.0,570.8 L42.2,569.8 L45.5,568.2 L48.7,566.0 L50.8,564.0 L58.3,555.9 L60.5,553.3 L61.6,551.5 L64.8,543.7 L65.8,542.0 L66.9,540.8 L68.0,540.1 L70.1,540.2 L71.1,540.0 L72.2,539.5 L73.1,538.7 L74.7,536.8 L75.5,535.2 L76.6,532.3 L77.6,527.5 L78.3,522.5 L78.9,513.8 L79.4,503.7 L79.9,477.8 L80.3,430.1 L80.7,470.4 L81.0,492.7 L81.6,510.5 L82.4,522.1 L83.0,526.5 L83.8,529.8 L84.7,532.0 L85.4,532.7 L86.0,533.0 L86.7,533.1 L87.6,532.7 L88.3,532.2 L89.4,530.4 L90.3,528.3 L91.2,524.3 L92.3,516.4 L93.0,506.6 L93.5,495.8 L94.2,465.2 L94.6,417.4 L95.3,476.7 L95.8,495.8 L96.5,510.2 L97.0,516.6 L97.7,522.4 L99.0,529.5 L100.2,532.8 L101.0,534.5 L102.3,536.3 L103.4,537.3 L103.9,537.6 L104.5,537.6 L105.1,537.2 L108.1,533.3 L108.8,532.7 L109.8,532.7 L110.9,534.4 L113.0,539.3 L115.2,542.7 L116.3,544.1 L117.3,545.1 L119.5,546.6 L120.6,547.1 L124.8,547.6 L125.9,547.9 L132.4,553.3 L134.5,554.6 L137.7,555.8 L143.1,557.6 L145.2,558.7 L148.5,560.8 L150.6,561.9 L158.1,563.7 L164.5,566.4 L168.8,567.1 L177.4,567.8 L181.7,568.6 L182.8,568.6 L184.9,568.4 L190.3,567.2 L197.8,567.0 L198.9,566.7 L204.2,564.5 L210.7,563.7 L213.9,562.9 L216.0,562.0 L218.2,560.7 L219.3,560.3 L220.3,560.3 L223.5,560.8 L224.6,560.9 L225.7,560.6 L228.9,559.0 L232.1,556.9 L233.2,556.5 L239.6,556.2 L240.7,555.9 L243.9,554.3 L247.1,551.4 L248.2,550.9 L249.3,550.9 L253.6,551.7 L254.7,551.8 L255.7,551.4 L257.9,549.9 L258.9,549.0 L262.2,545.2 L263.2,544.4 L264.3,544.2 L265.0,544.4 L267.5,546.0 L268.6,546.3 L269.7,546.4 L270.7,546.1 L271.8,545.1 L272.9,543.2 L274.0,540.2 L274.5,538.0 L275.7,530.4 L276.5,521.0 L277.3,506.7 L277.8,487.6 L278.4,428.3 L278.8,476.2 L279.5,506.7 L280.0,517.5 L280.8,527.3 L281.4,532.9 L282.3,537.5 L283.4,541.2 L284.0,542.6 L284.8,543.7 L285.6,544.6 L286.6,545.2 L287.6,544.6 L290.2,541.4 L291.1,540.9 L291.8,541.2 L292.2,541.8 L293.3,544.8 L295.4,552.9 L296.5,555.8 L298.6,558.8 L299.7,559.9 L300.8,560.4 L301.9,560.6 L305.1,560.9 L307.7,561.0 L307.7,571.8"/><path d="M36.5,574.3 L36.5,573.4 L39.8,572.3 L43.0,570.7 L46.2,568.5 L48.3,566.5 L55.9,558.5 L58.0,555.9 L59.1,554.0 L62.3,546.2 L63.4,544.6 L64.5,543.3 L65.5,542.6 L67.7,542.7 L68.6,542.6 L69.7,542.0 L70.6,541.3 L72.2,539.4 L73.0,537.8 L74.1,534.9 L75.2,530.0 L75.8,525.1 L76.4,516.4 L76.9,506.3 L77.4,480.3 L77.9,432.7 L78.2,472.9 L78.5,495.3 L79.1,513.0 L80.0,524.6 L80.5,529.0 L81.3,532.3 L82.3,534.5 L82.9,535.2 L83.5,535.5 L84.2,535.6 L85.1,535.3 L85.8,534.7 L87.0,532.9 L87.8,530.8 L88.7,526.8 L89.8,518.9 L90.5,509.1 L91.0,498.3 L91.7,467.7 L92.2,419.9 L92.8,479.2 L93.3,498.3 L94.0,512.7 L94.5,519.1 L95.2,524.9 L96.6,532.0 L97.7,535.3 L98.5,537.0 L99.8,538.8 L100.9,539.8 L101.4,540.1 L102.0,540.1 L102.6,539.7 L105.6,535.8 L106.3,535.2 L107.3,535.2 L108.4,536.9 L110.6,541.8 L112.7,545.2 L113.8,546.6 L114.9,547.6 L117.0,549.2 L118.1,549.6 L122.4,550.2 L123.4,550.5 L129.9,555.8 L132.0,557.1 L135.2,558.4 L140.6,560.1 L142.7,561.2 L146.0,563.3 L148.1,564.4 L155.6,566.2 L162.1,569.0 L166.3,569.7 L174.9,570.3 L179.2,571.1 L180.3,571.2 L182.4,570.9 L187.8,569.7 L195.3,569.5 L196.4,569.2 L201.8,567.0 L208.2,566.2 L211.4,565.4 L213.6,564.6 L215.7,563.3 L216.8,562.8 L217.8,562.8 L221.1,563.4 L222.1,563.4 L223.2,563.2 L226.4,561.5 L229.6,559.5 L230.7,559.0 L237.2,558.7 L238.2,558.4 L241.4,556.8 L244.7,554.0 L245.7,553.5 L246.8,553.4 L251.1,554.3 L252.2,554.3 L253.2,553.9 L255.4,552.5 L256.5,551.5 L259.7,547.8 L260.8,546.9 L261.8,546.7 L262.5,546.9 L265.0,548.5 L266.1,548.9 L267.2,548.9 L268.3,548.7 L269.3,547.7 L270.4,545.8 L271.5,542.8 L272.0,540.6 L273.2,533.0 L274.1,523.6 L274.8,509.4 L275.3,490.3 L275.9,431.0 L276.3,478.8 L277.0,509.3 L277.5,520.2 L278.3,529.9 L278.9,535.5 L279.8,540.1 L280.9,543.7 L281.5,545.1 L282.3,546.3 L283.1,547.2 L284.1,547.7 L285.2,547.2 L287.8,543.9 L288.6,543.4 L289.3,543.7 L289.7,544.4 L290.8,547.4 L292.9,555.4 L294.0,558.3 L296.2,561.4 L297.2,562.5 L298.3,562.9 L299.4,563.1 L302.6,563.5 L305.2,563.6 L305.2,574.3"/><path d="M34.1,576.8 L34.1,575.9 L37.3,574.9 L40.5,573.2 L43.7,571.0 L45.9,569.0 L53.4,561.0 L55.5,558.4 L56.6,556.6 L59.8,548.8 L60.9,547.1 L62.0,545.8 L63.0,545.1 L65.2,545.2 L66.1,545.1 L67.2,544.5 L68.2,543.8 L69.7,541.9 L70.5,540.3 L71.6,537.4 L72.7,532.5 L73.3,527.6 L73.9,518.9 L74.4,508.8 L75.0,482.8 L75.4,435.2 L75.7,475.4 L76.1,497.8 L76.7,515.5 L77.5,527.2 L78.1,531.6 L78.8,534.9 L79.8,537.0 L80.4,537.7 L81.0,538.0 L81.8,538.1 L82.6,537.8 L83.3,537.2 L84.5,535.4 L85.3,533.4 L86.2,529.3 L87.3,521.4 L88.0,511.6 L88.6,500.8 L89.3,470.2 L89.7,422.3 L90.3,481.7 L90.8,500.8 L91.5,515.2 L92.0,521.6 L92.7,527.4 L94.1,534.5 L95.2,537.9 L96.1,539.5 L97.4,541.3 L98.4,542.3 L98.9,542.6 L99.5,542.6 L100.1,542.3 L103.1,538.4 L103.8,537.7 L104.9,537.8 L105.9,539.4 L108.1,544.4 L110.2,547.8 L111.3,549.1 L112.4,550.1 L114.5,551.7 L115.6,552.1 L119.9,552.7 L121.0,553.0 L127.4,558.3 L129.5,559.6 L132.8,560.9 L138.1,562.6 L140.3,563.7 L143.5,565.9 L145.6,567.0 L153.1,568.7 L159.6,571.5 L163.9,572.2 L172.4,572.9 L176.7,573.7 L177.8,573.7 L180.0,573.4 L185.3,572.2 L192.8,572.0 L193.9,571.7 L199.3,569.6 L205.7,568.8 L208.9,567.9 L211.1,567.1 L213.2,565.8 L214.3,565.4 L215.4,565.3 L218.6,565.9 L219.6,565.9 L220.7,565.7 L223.9,564.1 L227.2,562.0 L228.2,561.5 L234.7,561.3 L235.7,561.0 L239.0,559.4 L242.2,556.5 L243.3,556.0 L244.3,556.0 L248.6,556.8 L249.7,556.8 L250.8,556.5 L252.9,555.0 L254.0,554.1 L257.2,550.3 L258.3,549.5 L259.3,549.2 L260.0,549.4 L262.6,551.1 L263.6,551.4 L264.7,551.5 L265.8,551.2 L266.9,550.2 L267.9,548.3 L269.0,545.3 L269.5,543.2 L270.7,535.6 L271.6,526.3 L272.3,512.0 L272.8,492.9 L273.4,433.6 L273.8,481.4 L274.5,512.0 L275.1,522.8 L275.8,532.5 L276.5,538.1 L277.3,542.7 L278.4,546.3 L279.1,547.7 L279.8,548.9 L280.6,549.8 L281.6,550.3 L282.7,549.7 L285.3,546.5 L286.2,546.0 L286.8,546.3 L287.2,546.9 L288.3,549.9 L290.5,557.9 L291.5,560.9 L293.7,563.9 L294.7,565.0 L295.8,565.5 L296.9,565.7 L300.1,566.0 L302.7,566.1 L302.7,576.8"/><path d="M31.6,579.3 L31.6,578.4 L34.8,577.4 L38.0,575.8 L41.2,573.6 L43.4,571.6 L50.9,563.5 L53.0,560.9 L54.1,559.1 L57.3,551.3 L58.4,549.6 L59.5,548.4 L60.5,547.7 L62.7,547.8 L63.6,547.6 L64.7,547.0 L65.7,546.3 L67.3,544.4 L68.0,542.8 L69.1,539.9 L70.2,535.0 L70.8,530.1 L71.5,521.4 L71.9,511.3 L72.5,485.3 L72.9,437.7 L73.2,477.9 L73.6,500.3 L74.2,518.1 L75.0,529.7 L75.6,534.1 L76.3,537.4 L77.3,539.5 L77.9,540.2 L78.5,540.6 L79.3,540.6 L80.1,540.3 L80.8,539.7 L82.0,537.9 L82.8,535.9 L83.8,531.8 L84.8,523.9 L85.6,514.1 L86.1,503.3 L86.8,472.7 L87.2,424.8 L87.8,484.2 L88.3,503.3 L89.0,517.6 L89.6,524.1 L90.2,529.9 L91.6,537.0 L92.7,540.4 L93.6,542.1 L94.9,543.8 L95.9,544.8 L96.4,545.1 L97.0,545.2 L97.7,544.8 L100.6,540.9 L101.3,540.3 L102.4,540.3 L103.4,542.0 L105.6,546.9 L107.7,550.3 L108.8,551.7 L109.9,552.7 L112.0,554.2 L113.1,554.6 L117.4,555.2 L118.5,555.5 L124.9,560.9 L127.0,562.2 L130.3,563.4 L135.6,565.1 L137.8,566.3 L141.0,568.4 L143.1,569.5 L150.7,571.3 L157.1,574.0 L161.4,574.7 L170.0,575.4 L174.3,576.2 L175.3,576.2 L177.5,576.0 L182.8,574.7 L190.3,574.6 L191.4,574.3 L196.8,572.1 L203.2,571.3 L206.4,570.5 L208.6,569.6 L210.7,568.3 L211.8,567.9 L212.9,567.9 L216.1,568.4 L217.2,568.5 L218.2,568.2 L221.5,566.6 L224.7,564.5 L225.7,564.1 L232.2,563.8 L233.3,563.5 L236.5,561.9 L239.7,559.0 L240.8,558.5 L241.8,558.5 L246.1,559.3 L247.2,559.4 L248.3,559.0 L250.4,557.5 L251.5,556.6 L254.7,552.8 L255.8,552.0 L256.9,551.8 L257.5,552.0 L260.1,553.6 L261.1,554.0 L262.2,554.0 L263.3,553.8 L264.4,552.8 L265.4,550.9 L266.5,547.9 L267.1,545.8 L268.3,538.2 L269.1,528.9 L269.8,514.6 L270.3,495.6 L270.9,436.3 L271.4,484.1 L272.1,514.6 L272.6,525.4 L273.3,535.1 L274.0,540.7 L274.8,545.3 L275.9,548.9 L276.6,550.3 L277.3,551.4 L278.2,552.3 L279.1,552.8 L280.2,552.3 L282.8,549.0 L283.7,548.5 L284.4,548.8 L284.8,549.4 L285.8,552.4 L288.0,560.5 L289.0,563.4 L291.2,566.5 L292.3,567.5 L293.3,568.0 L294.4,568.2 L297.6,568.5 L300.2,568.6 L300.2,579.3"/><path d="M29.1,581.9 L29.1,581.0 L32.3,579.9 L35.5,578.3 L38.7,576.1 L40.9,574.1 L48.4,566.0 L50.5,563.5 L51.6,561.6 L54.8,553.8 L55.9,552.2 L57.0,550.9 L58.1,550.2 L60.2,550.3 L61.2,550.1 L62.2,549.6 L63.2,548.8 L64.8,546.9 L65.6,545.3 L66.6,542.5 L67.7,537.6 L68.3,532.7 L69.0,524.0 L69.4,513.8 L70.0,487.9 L70.4,440.2 L70.7,480.5 L71.1,502.9 L71.7,520.6 L72.5,532.2 L73.1,536.6 L73.8,539.9 L74.8,542.1 L75.5,542.8 L76.0,543.1 L76.8,543.1 L77.6,542.8 L78.3,542.2 L79.5,540.5 L80.3,538.4 L81.3,534.4 L82.3,526.4 L83.1,516.6 L83.6,505.7 L84.3,475.2 L84.7,427.3 L85.3,486.7 L85.8,505.8 L86.6,520.1 L87.1,526.6 L87.7,532.4 L89.1,539.5 L90.2,542.9 L91.1,544.6 L92.4,546.4 L93.5,547.4 L94.0,547.7 L94.5,547.7 L95.2,547.3 L98.1,543.4 L98.8,542.8 L99.9,542.8 L101.0,544.5 L103.1,549.4 L105.3,552.8 L106.3,554.2 L107.4,555.2 L109.5,556.7 L110.6,557.2 L114.9,557.8 L116.0,558.0 L122.4,563.4 L124.6,564.7 L127.8,566.0 L133.1,567.7 L135.3,568.8 L138.5,570.9 L140.7,572.0 L148.2,573.8 L154.6,576.6 L158.9,577.2 L167.5,577.9 L171.8,578.7 L172.8,578.8 L175.0,578.5 L180.3,577.3 L187.9,577.1 L188.9,576.8 L194.3,574.6 L200.7,573.8 L204.0,573.0 L206.1,572.1 L208.2,570.8 L209.3,570.4 L210.4,570.4 L213.6,571.0 L214.7,571.0 L215.8,570.8 L219.0,569.1 L222.2,567.0 L223.3,566.6 L229.7,566.3 L230.8,566.0 L234.0,564.4 L237.2,561.5 L238.3,561.0 L239.4,561.0 L243.6,561.9 L244.7,561.9 L245.8,561.5 L247.9,560.1 L249.0,559.1 L252.2,555.4 L253.3,554.6 L254.4,554.3 L255.0,554.5 L257.6,556.2 L258.7,556.5 L259.7,556.6 L260.8,556.3 L261.9,555.4 L263.0,553.5 L264.0,550.5 L264.6,548.4 L265.8,540.8 L266.6,531.5 L267.3,517.3 L267.9,498.2 L268.5,438.9 L268.9,486.7 L269.6,517.3 L270.1,528.1 L270.8,537.8 L271.5,543.3 L272.3,547.9 L273.4,551.5 L274.1,552.8 L274.8,554.0 L275.7,554.9 L276.6,555.4 L277.7,554.8 L280.3,551.5 L281.2,551.0 L281.9,551.3 L282.3,552.0 L283.3,555.0 L285.5,563.0 L286.6,565.9 L288.7,569.0 L289.8,570.1 L290.8,570.6 L291.9,570.7 L295.1,571.1 L297.7,571.2 L297.7,581.9"/><path d="M26.6,584.4 L26.6,583.5 L29.8,582.4 L33.0,580.8 L36.3,578.6 L38.4,576.6 L45.9,568.6 L48.1,566.0 L49.1,564.1 L52.3,556.4 L53.4,554.7 L54.5,553.4 L55.6,552.7 L57.7,552.8 L58.7,552.7 L59.8,552.1 L60.7,551.4 L62.3,549.5 L63.1,547.9 L64.1,545.0 L65.2,540.1 L65.8,535.2 L66.5,526.5 L66.9,516.4 L67.5,490.4 L67.9,442.8 L68.2,483.0 L68.6,505.4 L69.2,523.1 L70.0,534.7 L70.6,539.1 L71.4,542.4 L72.3,544.6 L73.0,545.3 L73.6,545.6 L74.3,545.7 L75.1,545.3 L75.8,544.7 L77.0,543.0 L77.8,540.9 L78.8,536.9 L79.9,528.9 L80.6,519.1 L81.1,508.2 L81.8,477.7 L82.2,429.8 L82.8,489.1 L83.3,508.3 L84.1,522.6 L84.6,529.1 L85.3,534.9 L86.6,542.0 L87.7,545.4 L88.6,547.1 L89.9,548.9 L91.0,549.9 L91.5,550.2 L92.0,550.2 L92.7,549.8 L95.6,545.9 L96.3,545.3 L97.4,545.3 L98.5,547.0 L100.6,551.9 L102.8,555.3 L103.8,556.7 L104.9,557.7 L107.1,559.3 L108.1,559.7 L112.4,560.3 L113.5,560.6 L119.9,565.9 L122.1,567.2 L125.3,568.5 L130.7,570.2 L132.8,571.3 L136.0,573.5 L138.2,574.6 L145.7,576.3 L152.1,579.1 L156.4,579.8 L165.0,580.4 L169.3,581.2 L170.4,581.3 L172.5,581.0 L177.9,579.8 L185.4,579.6 L186.4,579.3 L191.8,577.2 L198.2,576.4 L201.5,575.5 L203.6,574.7 L205.8,573.4 L206.8,573.0 L207.9,572.9 L211.1,573.5 L212.2,573.5 L213.3,573.3 L216.5,571.7 L219.7,569.6 L220.8,569.1 L227.2,568.9 L228.3,568.6 L231.5,566.9 L234.7,564.1 L235.8,563.6 L236.9,563.6 L241.2,564.4 L242.2,564.4 L243.3,564.1 L245.5,562.6 L246.5,561.7 L249.7,557.9 L250.8,557.1 L251.9,556.9 L252.6,557.1 L255.1,558.7 L256.2,559.1 L257.3,559.1 L258.3,558.9 L259.4,557.9 L260.5,556.0 L261.5,553.1 L262.1,551.0 L263.3,543.5 L264.1,534.1 L264.8,519.9 L265.4,500.9 L266.0,441.6 L266.4,489.4 L267.1,519.9 L267.6,530.7 L268.3,540.4 L269.0,545.9 L269.9,550.5 L270.9,554.0 L271.6,555.4 L272.3,556.5 L273.2,557.4 L274.1,557.9 L275.2,557.4 L277.8,554.1 L278.7,553.6 L279.4,553.9 L279.8,554.5 L280.9,557.5 L283.0,565.6 L284.1,568.5 L286.2,571.5 L287.3,572.6 L288.4,573.1 L289.4,573.3 L292.7,573.6 L295.2,573.7 L295.2,584.4"/><path d="M24.1,586.9 L24.1,586.0 L27.3,585.0 L30.6,583.4 L33.8,581.2 L35.9,579.2 L43.4,571.1 L45.6,568.5 L46.6,566.7 L49.9,558.9 L50.9,557.2 L52.0,556.0 L53.1,555.2 L55.2,555.4 L56.2,555.2 L57.3,554.6 L58.2,553.9 L59.8,552.0 L60.6,550.4 L61.7,547.5 L62.7,542.6 L63.3,537.7 L64.0,529.0 L64.4,518.9 L65.0,492.9 L65.4,445.3 L65.8,485.5 L66.1,507.9 L66.7,525.6 L67.5,537.3 L68.1,541.7 L68.9,545.0 L69.8,547.1 L70.5,547.8 L71.1,548.1 L71.8,548.2 L72.7,547.9 L73.4,547.3 L74.5,545.5 L75.3,543.4 L76.3,539.4 L77.4,531.4 L78.1,521.6 L78.6,510.7 L79.3,480.1 L79.7,432.3 L80.3,491.6 L80.9,510.8 L81.6,525.1 L82.1,531.6 L82.8,537.4 L84.1,544.6 L85.3,547.9 L86.1,549.6 L87.4,551.4 L88.5,552.4 L89.0,552.7 L89.6,552.7 L90.2,552.4 L93.1,548.5 L93.8,547.8 L94.9,547.9 L96.0,549.6 L98.1,554.5 L100.3,557.9 L101.4,559.3 L102.4,560.2 L104.6,561.8 L105.6,562.2 L109.9,562.8 L111.0,563.1 L117.4,568.4 L119.6,569.7 L122.8,571.0 L128.2,572.7 L130.3,573.9 L133.5,576.0 L135.7,577.1 L143.2,578.8 L149.6,581.6 L153.9,582.3 L162.5,583.0 L166.8,583.8 L167.9,583.8 L170.0,583.5 L175.4,582.3 L182.9,582.1 L184.0,581.9 L189.3,579.7 L195.8,578.9 L199.0,578.0 L201.1,577.2 L203.3,575.9 L204.3,575.5 L205.4,575.5 L208.6,576.0 L209.7,576.1 L210.8,575.8 L214.0,574.2 L217.2,572.1 L218.3,571.7 L224.7,571.4 L225.8,571.1 L229.0,569.5 L232.2,566.6 L233.3,566.1 L234.4,566.1 L238.7,566.9 L239.7,567.0 L240.8,566.6 L243.0,565.2 L244.0,564.2 L247.3,560.4 L248.3,559.6 L249.4,559.4 L250.1,559.6 L252.6,561.2 L253.7,561.6 L254.8,561.7 L255.8,561.4 L256.9,560.5 L258.0,558.6 L259.1,555.7 L259.6,553.5 L260.8,546.1 L261.6,536.8 L262.4,522.6 L262.9,503.5 L263.5,444.2 L263.9,492.0 L264.6,522.5 L265.1,533.3 L265.9,543.0 L266.5,548.5 L267.4,553.1 L268.5,556.6 L269.1,558.0 L269.9,559.1 L270.7,560.0 L271.7,560.5 L272.7,559.9 L275.3,556.6 L276.2,556.1 L276.9,556.4 L277.3,557.0 L278.4,560.1 L280.5,568.1 L281.6,571.0 L283.7,574.1 L284.8,575.1 L285.9,575.6 L287.0,575.8 L290.2,576.1 L292.8,576.2 L292.8,586.9"/><path d="M21.6,589.5 L21.6,588.5 L24.8,587.5 L28.1,585.9 L31.3,583.7 L33.4,581.7 L40.9,573.6 L43.1,571.0 L44.2,569.2 L47.4,561.4 L48.4,559.7 L49.5,558.5 L50.6,557.8 L52.7,557.9 L53.7,557.7 L54.8,557.2 L55.7,556.4 L57.3,554.5 L58.1,552.9 L59.2,550.0 L60.3,545.2 L60.9,540.3 L61.5,531.6 L62.0,521.4 L62.5,495.5 L63.0,447.8 L63.3,488.1 L63.6,510.5 L64.2,528.2 L65.0,539.8 L65.6,544.2 L66.4,547.5 L67.3,549.6 L68.0,550.3 L68.6,550.7 L69.3,550.7 L70.2,550.4 L70.9,549.8 L72.1,548.0 L72.9,545.9 L73.8,541.9 L74.9,533.9 L75.6,524.1 L76.1,513.2 L76.8,482.6 L77.3,434.8 L77.9,494.1 L78.4,513.3 L79.1,527.6 L79.6,534.1 L80.3,539.9 L81.6,547.1 L82.8,550.4 L83.6,552.1 L84.9,553.9 L86.0,554.9 L86.5,555.2 L87.1,555.2 L87.7,554.9 L90.7,551.0 L91.4,550.4 L92.4,550.4 L93.5,552.1 L95.7,557.0 L97.8,560.4 L98.9,561.8 L99.9,562.8 L102.1,564.3 L103.2,564.8 L107.5,565.3 L108.5,565.6 L115.0,571.0 L117.1,572.3 L120.3,573.5 L125.7,575.3 L127.8,576.4 L131.1,578.5 L133.2,579.6 L140.7,581.4 L147.1,584.2 L151.4,584.8 L160.0,585.5 L164.3,586.3 L165.4,586.3 L167.5,586.1 L172.9,584.9 L180.4,584.7 L181.5,584.4 L186.8,582.2 L193.3,581.4 L196.5,580.6 L198.6,579.7 L200.8,578.4 L201.9,578.0 L202.9,578.0 L206.2,578.6 L207.2,578.6 L208.3,578.3 L211.5,576.7 L214.7,574.6 L215.8,574.2 L222.2,573.9 L224.4,573.2 L226.5,572.0 L229.8,569.1 L230.8,568.6 L231.9,568.6 L236.2,569.5 L237.3,569.5 L238.3,569.1 L240.5,567.7 L241.6,566.7 L244.8,563.0 L245.8,562.2 L246.9,561.9 L247.6,562.1 L250.1,563.8 L251.2,564.2 L252.3,564.2 L253.4,564.0 L254.4,563.0 L255.5,561.2 L256.6,558.3 L257.1,556.1 L258.3,548.7 L259.2,539.4 L259.9,525.2 L260.4,506.1 L261.0,446.8 L261.4,494.7 L262.1,525.2 L262.6,535.9 L263.4,545.6 L264.0,551.1 L264.9,555.7 L266.0,559.2 L266.6,560.5 L267.4,561.7 L268.2,562.5 L269.2,563.0 L270.2,562.5 L272.8,559.2 L273.7,558.6 L274.4,558.9 L274.8,559.6 L275.9,562.6 L278.0,570.6 L279.1,573.5 L281.2,576.6 L282.3,577.7 L283.4,578.2 L284.5,578.3 L287.7,578.7 L290.3,578.8 L290.3,589.5"/><path d="M19.1,592.0 L19.1,591.1 L22.4,590.0 L25.6,588.4 L28.8,586.2 L30.9,584.2 L38.5,576.2 L40.6,573.6 L41.7,571.7 L44.9,563.9 L46.0,562.3 L47.1,561.0 L48.1,560.3 L50.3,560.4 L51.2,560.3 L52.3,559.7 L53.3,559.0 L54.8,557.1 L55.6,555.5 L56.7,552.6 L57.8,547.7 L58.4,542.8 L59.0,534.1 L59.5,524.0 L60.1,498.0 L60.5,450.4 L60.8,490.6 L61.2,513.0 L61.7,530.7 L62.6,542.3 L63.1,546.7 L63.9,550.0 L64.9,552.2 L65.5,552.9 L66.1,553.2 L66.8,553.2 L67.7,552.9 L68.4,552.3 L69.6,550.5 L70.4,548.4 L71.3,544.4 L72.4,536.4 L73.1,526.6 L73.6,515.7 L74.3,485.1 L74.8,437.3 L75.4,496.6 L75.9,515.7 L76.6,530.1 L77.1,536.6 L77.8,542.4 L79.2,549.6 L80.3,552.9 L81.1,554.6 L82.4,556.4 L83.5,557.4 L84.0,557.8 L84.6,557.8 L85.2,557.4 L88.2,553.5 L88.9,552.9 L89.9,552.9 L91.0,554.6 L93.2,559.5 L95.3,562.9 L96.4,564.3 L97.5,565.3 L99.6,566.8 L100.7,567.3 L105.0,567.9 L106.0,568.2 L112.5,573.5 L114.6,574.8 L117.8,576.1 L123.2,577.8 L125.4,578.9 L128.6,581.1 L130.7,582.2 L138.2,583.9 L144.7,586.7 L149.0,587.4 L157.5,588.0 L161.8,588.8 L162.9,588.9 L165.0,588.6 L170.4,587.4 L177.9,587.2 L179.0,586.9 L184.4,584.8 L190.8,584.0 L194.0,583.1 L196.2,582.3 L198.3,581.0 L199.4,580.6 L200.4,580.5 L203.7,581.1 L204.7,581.1 L205.8,580.9 L209.0,579.3 L212.2,577.2 L213.3,576.7 L219.8,576.5 L221.9,575.7 L224.0,574.5 L227.3,571.7 L228.3,571.2 L229.4,571.2 L233.7,572.0 L234.8,572.0 L235.9,571.7 L238.0,570.2 L239.1,569.3 L242.3,565.5 L243.4,564.7 L244.4,564.5 L245.1,564.7 L247.7,566.3 L248.7,566.7 L249.8,566.8 L250.9,566.5 L251.9,565.6 L253.0,563.8 L254.1,560.8 L254.6,558.7 L255.8,551.3 L256.7,542.0 L257.4,527.8 L257.9,508.8 L258.5,449.5 L258.9,497.3 L259.6,527.8 L260.1,538.6 L260.9,548.2 L261.5,553.7 L262.4,558.2 L263.5,561.7 L264.1,563.1 L264.9,564.2 L265.7,565.1 L266.7,565.6 L267.8,565.0 L270.4,561.7 L271.3,561.2 L271.9,561.5 L272.3,562.1 L273.4,565.1 L275.5,573.2 L276.6,576.1 L278.8,579.1 L279.8,580.2 L280.9,580.7 L282.0,580.9 L285.2,581.2 L287.8,581.3 L287.8,592.0"/><path d="M16.7,594.5 L16.7,593.6 L19.9,592.6 L23.1,590.9 L26.3,588.7 L28.5,586.7 L36.0,578.7 L38.1,576.1 L39.2,574.3 L42.4,566.5 L43.5,564.8 L44.6,563.5 L45.6,562.8 L47.8,562.9 L48.7,562.8 L49.8,562.2 L50.8,561.5 L52.4,559.6 L53.1,558.0 L54.2,555.1 L55.3,550.2 L55.9,545.3 L56.5,536.6 L57.0,526.5 L57.6,500.5 L58.0,452.9 L58.3,493.1 L58.7,515.5 L59.3,533.2 L60.1,544.9 L60.7,549.3 L61.4,552.5 L62.4,554.7 L63.0,555.4 L63.6,555.7 L64.4,555.8 L65.2,555.4 L65.9,554.8 L67.1,553.0 L67.9,550.9 L68.9,546.9 L69.9,538.9 L70.7,529.1 L71.2,518.2 L71.9,487.6 L72.3,439.8 L72.9,499.1 L73.4,518.2 L74.1,532.6 L74.6,539.1 L75.3,544.9 L76.7,552.1 L77.8,555.5 L78.7,557.2 L80.0,559.0 L81.0,560.0 L81.5,560.3 L82.1,560.3 L82.7,559.9 L85.7,556.0 L86.4,555.4 L87.5,555.5 L88.5,557.1 L90.7,562.0 L92.8,565.5 L93.9,566.8 L95.0,567.8 L97.1,569.4 L98.2,569.8 L102.5,570.4 L103.6,570.7 L110.0,576.0 L112.1,577.3 L115.4,578.6 L120.7,580.3 L122.9,581.4 L126.1,583.6 L128.2,584.7 L135.7,586.4 L142.2,589.2 L146.5,589.9 L155.1,590.6 L159.3,591.4 L160.4,591.4 L162.6,591.1 L167.9,589.9 L175.4,589.7 L176.5,589.5 L181.9,587.3 L188.3,586.5 L191.5,585.6 L193.7,584.8 L195.8,583.5 L196.9,583.1 L198.0,583.0 L201.2,583.6 L202.3,583.7 L203.3,583.4 L206.5,581.8 L209.8,579.7 L210.8,579.3 L217.3,579.0 L219.4,578.2 L221.6,577.1 L224.8,574.2 L225.9,573.7 L226.9,573.7 L231.2,574.5 L232.3,574.6 L233.4,574.2 L235.5,572.8 L236.6,571.8 L239.8,568.0 L240.9,567.2 L241.9,567.0 L242.6,567.2 L245.2,568.9 L246.2,569.3 L247.3,569.3 L248.4,569.1 L249.5,568.2 L250.5,566.3 L251.6,563.4 L252.1,561.3 L253.4,553.9 L254.2,544.6 L254.9,530.5 L255.4,511.4 L256.0,452.1 L256.4,500.0 L257.2,530.4 L257.7,541.2 L258.4,550.8 L259.1,556.3 L259.9,560.8 L261.0,564.3 L261.7,565.7 L262.4,566.8 L263.2,567.7 L264.2,568.1 L265.3,567.5 L267.9,564.2 L268.8,563.7 L269.4,564.0 L269.8,564.7 L270.9,567.7 L273.1,575.7 L274.1,578.6 L276.3,581.7 L277.4,582.8 L278.4,583.2 L279.5,583.4 L282.7,583.8 L285.3,583.8 L285.3,594.5"/><path d="M14.2,597.0 L14.2,596.1 L17.4,595.1 L20.6,593.5 L23.8,591.3 L26.0,589.3 L33.5,581.2 L35.6,578.6 L36.7,576.8 L39.9,569.0 L41.0,567.3 L42.1,566.1 L43.1,565.4 L45.3,565.5 L46.3,565.3 L47.3,564.7 L48.3,564.0 L49.9,562.1 L50.7,560.5 L51.7,557.6 L52.8,552.7 L53.4,547.8 L54.1,539.1 L54.5,529.0 L55.1,503.1 L55.5,455.4 L55.8,495.7 L56.2,518.0 L56.8,535.8 L57.6,547.4 L58.2,551.8 L58.9,555.1 L59.9,557.2 L60.6,557.9 L61.1,558.2 L61.9,558.3 L62.7,557.9 L63.4,557.3 L64.6,555.5 L65.4,553.4 L66.4,549.4 L67.4,541.4 L68.2,531.6 L68.7,520.7 L69.4,490.1 L69.8,442.3 L70.4,501.6 L70.9,520.7 L71.6,535.1 L72.2,541.6 L72.8,547.4 L74.2,554.6 L75.3,558.0 L76.2,559.7 L77.5,561.5 L78.5,562.5 L79.0,562.8 L79.6,562.8 L80.3,562.5 L83.2,558.6 L83.9,557.9 L85.0,558.0 L86.1,559.7 L88.2,564.6 L90.3,568.0 L91.4,569.4 L92.5,570.4 L94.6,571.9 L95.7,572.3 L100.0,572.9 L101.1,573.2 L107.5,578.6 L109.7,579.9 L112.9,581.1 L118.2,582.8 L120.4,584.0 L123.6,586.1 L125.7,587.2 L133.3,589.0 L139.7,591.7 L144.0,592.4 L152.6,593.1 L156.9,593.9 L157.9,593.9 L160.1,593.7 L165.4,592.5 L172.9,592.3 L174.0,592.0 L179.4,589.8 L185.8,589.0 L189.0,588.2 L191.2,587.3 L193.3,586.0 L194.4,585.6 L195.5,585.6 L198.7,586.1 L199.8,586.2 L200.8,585.9 L204.1,584.3 L207.3,582.2 L208.4,581.8 L214.8,581.5 L216.9,580.8 L219.1,579.6 L222.3,576.7 L223.4,576.2 L224.4,576.2 L228.7,577.1 L229.8,577.1 L230.9,576.7 L233.0,575.3 L234.1,574.3 L237.3,570.6 L238.4,569.8 L239.5,569.5 L240.1,569.7 L242.7,571.4 L243.8,571.8 L244.8,571.9 L245.9,571.7 L247.0,570.7 L248.0,568.9 L249.1,566.0 L249.7,563.9 L250.9,556.5 L251.7,547.3 L252.4,533.1 L252.9,514.1 L253.5,454.8 L254.0,502.6 L254.7,533.1 L255.2,543.8 L255.9,553.4 L256.6,558.9 L257.4,563.4 L258.5,566.9 L259.2,568.2 L259.9,569.4 L260.8,570.2 L261.7,570.7 L262.8,570.1 L265.4,566.8 L266.3,566.2 L267.0,566.5 L267.4,567.2 L268.4,570.2 L270.6,578.2 L271.6,581.2 L273.8,584.2 L274.9,585.3 L275.9,585.8 L277.0,586.0 L280.2,586.3 L282.8,586.4 L282.8,597.0"/><path d="M11.7,599.6 L11.7,598.7 L14.9,597.6 L18.1,596.0 L21.3,593.8 L23.5,591.8 L31.0,583.7 L33.1,581.2 L34.2,579.3 L37.4,571.5 L38.5,569.9 L39.6,568.6 L40.7,567.9 L42.8,568.0 L43.8,567.8 L44.8,567.3 L45.8,566.5 L47.4,564.6 L48.2,563.0 L49.2,560.2 L50.3,555.3 L50.9,550.4 L51.6,541.7 L52.0,531.5 L52.6,505.6 L53.0,458.0 L53.3,498.2 L53.7,520.6 L54.3,538.3 L55.1,549.9 L55.7,554.3 L56.4,557.6 L57.4,559.7 L58.1,560.4 L58.6,560.7 L59.4,560.8 L60.2,560.5 L60.9,559.9 L62.1,558.1 L62.9,556.0 L63.9,551.9 L64.9,543.9 L65.7,534.1 L66.2,523.2 L66.9,492.6 L67.3,444.7 L67.9,504.1 L68.4,523.2 L69.2,537.6 L69.7,544.1 L70.3,550.0 L71.7,557.1 L72.8,560.5 L73.7,562.2 L75.0,564.0 L76.1,565.0 L76.6,565.3 L77.1,565.3 L77.8,565.0 L80.7,561.1 L81.4,560.5 L82.5,560.5 L83.6,562.2 L85.7,567.1 L87.9,570.5 L88.9,571.9 L90.0,572.9 L92.1,574.4 L93.2,574.9 L97.5,575.5 L98.6,575.8 L105.0,581.1 L107.2,582.4 L110.4,583.7 L115.8,585.4 L117.9,586.5 L121.1,588.6 L123.3,589.7 L130.8,591.5 L137.2,594.3 L141.5,595.0 L150.1,595.6 L154.4,596.4 L155.4,596.5 L157.6,596.2 L163.0,595.0 L170.5,594.8 L171.5,594.5 L176.9,592.3 L183.3,591.5 L186.6,590.7 L188.7,589.9 L190.8,588.6 L191.9,588.1 L193.0,588.1 L196.2,588.7 L197.3,588.7 L198.4,588.5 L201.6,586.8 L204.8,584.8 L205.9,584.3 L212.3,584.1 L214.4,583.3 L216.6,582.1 L219.8,579.3 L220.9,578.8 L222.0,578.8 L226.2,579.6 L227.3,579.6 L228.4,579.3 L230.5,577.8 L231.6,576.9 L234.8,573.1 L235.9,572.3 L237.0,572.1 L237.7,572.3 L240.2,574.0 L241.3,574.3 L242.3,574.4 L243.4,574.2 L244.5,573.3 L245.6,571.5 L246.6,568.6 L247.2,566.5 L248.4,559.1 L249.2,549.9 L249.9,535.7 L250.5,516.7 L251.1,457.4 L251.5,505.2 L252.2,535.7 L252.7,546.5 L253.4,556.1 L254.1,561.5 L254.9,566.0 L256.0,569.5 L256.7,570.8 L257.4,571.9 L258.3,572.8 L259.2,573.2 L260.3,572.6 L262.9,569.3 L263.8,568.8 L264.5,569.1 L264.9,569.7 L265.9,572.7 L268.1,580.8 L269.2,583.7 L271.3,586.8 L272.4,587.8 L273.5,588.3 L274.5,588.5 L277.7,588.8 L280.3,588.9 L280.3,599.6"/><path d="M9.2,602.1 L9.2,601.2 L12.4,600.1 L15.6,598.5 L18.9,596.3 L21.0,594.3 L28.5,586.3 L30.7,583.7 L31.7,581.8 L35.0,574.1 L36.0,572.4 L37.1,571.1 L38.2,570.4 L40.3,570.5 L41.3,570.4 L42.4,569.8 L43.3,569.1 L44.9,567.2 L45.7,565.6 L46.8,562.7 L47.8,557.8 L48.4,552.9 L49.1,544.2 L49.5,534.1 L50.1,508.1 L50.5,460.5 L50.9,500.7 L51.2,523.1 L51.8,540.8 L52.6,552.4 L53.2,556.8 L54.0,560.1 L54.9,562.3 L55.6,563.0 L56.2,563.3 L56.9,563.3 L57.7,563.0 L58.5,562.4 L59.6,560.6 L60.4,558.5 L61.4,554.4 L62.5,546.4 L63.2,536.5 L63.7,525.7 L64.4,495.1 L64.8,447.2 L65.4,506.6 L66.0,525.7 L66.7,540.1 L67.2,546.6 L67.9,552.5 L69.2,559.6 L70.4,563.0 L71.2,564.7 L72.5,566.5 L73.6,567.5 L74.1,567.8 L74.6,567.9 L75.3,567.5 L78.2,563.6 L78.9,563.0 L80.0,563.0 L81.1,564.7 L83.2,569.6 L85.4,573.0 L86.4,574.4 L87.5,575.4 L89.7,577.0 L90.7,577.4 L95.0,578.0 L96.1,578.3 L102.5,583.6 L104.7,584.9 L107.9,586.2 L113.3,587.9 L115.4,589.0 L118.6,591.2 L120.8,592.3 L128.3,594.0 L134.7,596.8 L139.0,597.5 L147.6,598.2 L151.9,599.0 L153.0,599.0 L155.1,598.7 L160.5,597.5 L168.0,597.3 L169.1,597.1 L174.4,594.9 L180.9,594.1 L184.1,593.2 L186.2,592.4 L188.4,591.1 L189.4,590.7 L190.5,590.6 L193.7,591.2 L194.8,591.3 L195.9,591.0 L199.1,589.4 L202.3,587.3 L203.4,586.9 L209.8,586.6 L212.0,585.8 L214.1,584.7 L217.3,581.8 L218.4,581.3 L219.5,581.3 L223.8,582.1 L224.8,582.2 L225.9,581.8 L228.1,580.4 L229.1,579.4 L232.3,575.7 L233.4,574.8 L234.5,574.6 L235.2,574.8 L237.7,576.5 L238.8,576.9 L240.4,576.9 L241.4,576.5 L242.2,575.6 L243.1,574.0 L244.1,571.2 L244.7,569.1 L245.9,561.7 L246.9,549.1 L247.6,534.6 L248.0,515.5 L248.6,460.1 L249.0,507.9 L249.7,538.4 L250.2,549.1 L250.9,558.7 L251.6,564.1 L252.5,568.6 L253.6,572.0 L254.2,573.4 L254.9,574.5 L255.8,575.3 L256.7,575.8 L257.8,575.2 L260.4,571.8 L261.3,571.3 L262.0,571.6 L262.4,572.3 L263.5,575.3 L265.6,583.3 L266.7,586.2 L268.8,589.3 L269.9,590.4 L271.0,590.9 L272.0,591.0 L275.3,591.4 L277.9,591.4 L277.9,602.1"/></g>
<path d="M6.799999999999997,605.4 H275.1 L344.6,533.8" stroke="#000" stroke-width="1.6" fill="none"/>
<path d="M10.38,605.40 l-1.5,2.2 M32.73,605.40 l-4,3.8 M55.08,605.40 l-1.5,2.2 M77.43,605.40 l-4,3.8 M99.78,605.40 l-1.5,2.2 M122.13,605.40 l-4,3.8 M144.48,605.40 l-1.5,2.2 M166.83,605.40 l-4,3.8 M189.18,605.40 l-1.5,2.2 M211.53,605.40 l-4,3.8 M233.88,605.40 l-1.5,2.2 M256.23,605.40 l-4,3.8 M344.6,383.81 h8 M344.6,393.20 h16 M344.6,402.59 h8 M344.6,411.97 h16 M344.6,421.36 h8 M344.6,430.75 h16 M344.6,440.14 h8 M344.6,449.52 h16 M344.6,458.91 h8 M344.6,468.30 h16 M344.6,477.69 h8 M344.6,487.07 h16 M344.6,496.46 h8 M344.6,505.85 h16 M344.6,515.24 h8 M344.6,524.62 h16 M344.60,533.80 h9 M333.41,545.33 h7 M320.14,559.00 h14 M308.46,571.03 h8 M295.67,584.21 h14 M283.65,596.59 h8" stroke="#000" stroke-width="1.1" fill="none"/>
<text x="12.2" y="622.9" font-size="11" text-anchor="middle" textLength="24.5" lengthAdjust="spacingAndGlyphs" >1525</text>
<text x="56.9" y="622.9" font-size="11" text-anchor="middle" textLength="24.5" lengthAdjust="spacingAndGlyphs" >1530</text>
<text x="101.6" y="622.9" font-size="11" text-anchor="middle" textLength="24.5" lengthAdjust="spacingAndGlyphs" >1535</text>
<text x="146.3" y="622.9" font-size="11" text-anchor="middle" textLength="24.5" lengthAdjust="spacingAndGlyphs" >1540</text>
<text x="191.0" y="622.9" font-size="11" text-anchor="middle" textLength="24.5" lengthAdjust="spacingAndGlyphs" >1545</text>
<text x="235.7" y="622.9" font-size="11" text-anchor="middle" textLength="24.5" lengthAdjust="spacingAndGlyphs" >1550</text>
<text x="383.7" y="392.0" font-size="11" text-anchor="end" textLength="17" lengthAdjust="spacingAndGlyphs" >-30</text>
<text x="383.7" y="410.8" font-size="11" text-anchor="end" textLength="17" lengthAdjust="spacingAndGlyphs" >-35</text>
<text x="383.7" y="429.6" font-size="11" text-anchor="end" textLength="17" lengthAdjust="spacingAndGlyphs" >-40</text>
<text x="383.7" y="448.3" font-size="11" text-anchor="end" textLength="17" lengthAdjust="spacingAndGlyphs" >-45</text>
<text x="383.7" y="467.1" font-size="11" text-anchor="end" textLength="17" lengthAdjust="spacingAndGlyphs" >-50</text>
<text x="383.7" y="485.9" font-size="11" text-anchor="end" textLength="17" lengthAdjust="spacingAndGlyphs" >-55</text>
<text x="383.7" y="504.6" font-size="11" text-anchor="end" textLength="17" lengthAdjust="spacingAndGlyphs" >-60</text>
<text x="383.7" y="523.4" font-size="11" text-anchor="end" textLength="17" lengthAdjust="spacingAndGlyphs" >-65</text>
<text x="357.0" y="540.0" font-size="11" text-anchor="start" >0</text>
<text x="283.0" y="612.4" font-size="11" text-anchor="start" textLength="13" lengthAdjust="spacingAndGlyphs" >50</text>
<text transform="translate(317.5,602.3) rotate(-50.5)" font-size="14" textLength="66" lengthAdjust="spacingAndGlyphs">Scan Time</text>
<text x="73.8" y="640.5" font-size="14.5" text-anchor="start" textLength="114" lengthAdjust="spacingAndGlyphs" >Wavelength, nm</text>
<text x="82.0" y="368.9" font-size="22" text-anchor="start" >c</text>
<text x="94.3" y="368.2" font-size="21" text-anchor="start" >)</text>
</svg></body></html>
